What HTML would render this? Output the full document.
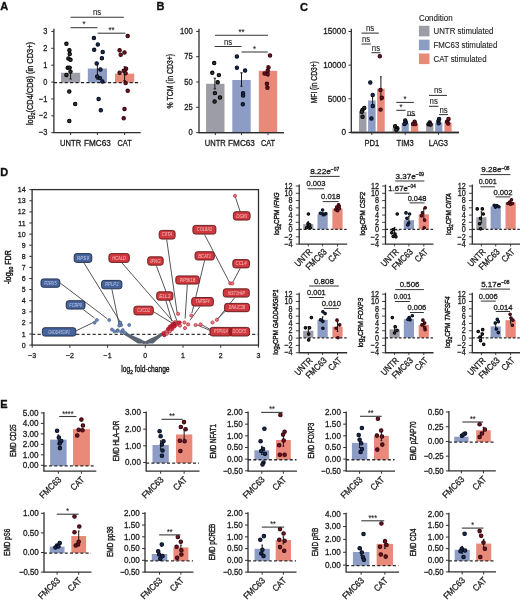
<!DOCTYPE html>
<html><head><meta charset="utf-8"><style>
html,body{margin:0;padding:0;background:#fff;}
svg{display:block;will-change:transform;}
text{font-family:"Liberation Sans", sans-serif;}
</style></head><body>
<svg width="520" height="602" viewBox="0 0 520 602">
<rect width="520" height="602" fill="#fff"/>
<text x="0.20" y="10.00" font-size="11.0" text-anchor="start" fill="#111" stroke="#111" stroke-width="0.35" font-weight="bold">A</text>
<text x="156.40" y="10.00" font-size="11.0" text-anchor="start" fill="#111" stroke="#111" stroke-width="0.35" font-weight="bold">B</text>
<text x="300.00" y="10.50" font-size="11.0" text-anchor="start" fill="#111" stroke="#111" stroke-width="0.35" font-weight="bold">C</text>
<text x="0.30" y="175.80" font-size="11.0" text-anchor="start" fill="#111" stroke="#111" stroke-width="0.35" font-weight="bold">D</text>
<text x="0.30" y="407.90" font-size="11.0" text-anchor="start" fill="#111" stroke="#111" stroke-width="0.35" font-weight="bold">E</text>
<line x1="53.90" y1="28.70" x2="53.90" y2="132.70" stroke="#2e2e2e" stroke-width="1.3"/>
<line x1="53.40" y1="132.70" x2="140.70" y2="132.70" stroke="#2e2e2e" stroke-width="1.3"/>
<line x1="51.30" y1="31.41" x2="53.90" y2="31.41" stroke="#2e2e2e" stroke-width="1.0"/>
<text x="47.40" y="34.01" font-size="8.51" text-anchor="end" fill="#1c1c1c" stroke="#1c1c1c" stroke-width="0.3" textLength="4.12" lengthAdjust="spacingAndGlyphs">3</text>
<line x1="51.30" y1="48.29" x2="53.90" y2="48.29" stroke="#2e2e2e" stroke-width="1.0"/>
<text x="47.40" y="50.89" font-size="8.51" text-anchor="end" fill="#1c1c1c" stroke="#1c1c1c" stroke-width="0.3" textLength="4.12" lengthAdjust="spacingAndGlyphs">2</text>
<line x1="51.30" y1="65.17" x2="53.90" y2="65.17" stroke="#2e2e2e" stroke-width="1.0"/>
<text x="47.40" y="67.77" font-size="8.51" text-anchor="end" fill="#1c1c1c" stroke="#1c1c1c" stroke-width="0.3" textLength="4.12" lengthAdjust="spacingAndGlyphs">1</text>
<line x1="51.30" y1="82.05" x2="53.90" y2="82.05" stroke="#2e2e2e" stroke-width="1.0"/>
<text x="47.40" y="84.65" font-size="8.51" text-anchor="end" fill="#1c1c1c" stroke="#1c1c1c" stroke-width="0.3" textLength="4.12" lengthAdjust="spacingAndGlyphs">0</text>
<line x1="51.30" y1="98.93" x2="53.90" y2="98.93" stroke="#2e2e2e" stroke-width="1.0"/>
<text x="47.40" y="101.53" font-size="8.51" text-anchor="end" fill="#1c1c1c" stroke="#1c1c1c" stroke-width="0.3" textLength="8.44" lengthAdjust="spacingAndGlyphs">−1</text>
<line x1="51.30" y1="115.81" x2="53.90" y2="115.81" stroke="#2e2e2e" stroke-width="1.0"/>
<text x="47.40" y="118.41" font-size="8.51" text-anchor="end" fill="#1c1c1c" stroke="#1c1c1c" stroke-width="0.3" textLength="8.44" lengthAdjust="spacingAndGlyphs">−2</text>
<line x1="51.30" y1="132.69" x2="53.90" y2="132.69" stroke="#2e2e2e" stroke-width="1.0"/>
<text x="47.40" y="135.29" font-size="8.51" text-anchor="end" fill="#1c1c1c" stroke="#1c1c1c" stroke-width="0.3" textLength="8.44" lengthAdjust="spacingAndGlyphs">−3</text>
<line x1="70.60" y1="132.60" x2="70.60" y2="135.00" stroke="#2e2e2e" stroke-width="1.0"/>
<line x1="97.40" y1="132.60" x2="97.40" y2="135.00" stroke="#2e2e2e" stroke-width="1.0"/>
<line x1="124.60" y1="132.60" x2="124.60" y2="135.00" stroke="#2e2e2e" stroke-width="1.0"/>
<text x="70.60" y="146.00" font-size="8.74" text-anchor="middle" fill="#1c1c1c" stroke="#1c1c1c" stroke-width="0.3" textLength="21.0" lengthAdjust="spacingAndGlyphs">UNTR</text>
<text x="97.40" y="146.00" font-size="8.74" text-anchor="middle" fill="#1c1c1c" stroke="#1c1c1c" stroke-width="0.3" textLength="26.8" lengthAdjust="spacingAndGlyphs">FMC63</text>
<text x="124.60" y="146.00" font-size="8.74" text-anchor="middle" fill="#1c1c1c" stroke="#1c1c1c" stroke-width="0.3" textLength="14.2" lengthAdjust="spacingAndGlyphs">CAT</text>
<rect x="61.00" y="72.77" width="19.20" height="9.78" fill="#9d9da7"/>
<rect x="87.80" y="68.55" width="19.20" height="14.00" fill="#8d9cc5"/>
<rect x="115.00" y="73.61" width="19.20" height="8.94" fill="#e8897a"/>
<line x1="53.90" y1="82.55" x2="140.50" y2="82.55" stroke="#222" stroke-width="1.3" stroke-dasharray="3.2,2.2"/>
<line x1="70.60" y1="67.50" x2="70.60" y2="79.00" stroke="#1a1a1a" stroke-width="1.0"/>
<line x1="69.40" y1="67.50" x2="71.80" y2="67.50" stroke="#1a1a1a" stroke-width="1.0"/>
<line x1="69.40" y1="79.00" x2="71.80" y2="79.00" stroke="#1a1a1a" stroke-width="1.0"/>
<line x1="97.40" y1="63.60" x2="97.40" y2="79.20" stroke="#1a1a1a" stroke-width="1.0"/>
<line x1="96.20" y1="63.60" x2="98.60" y2="63.60" stroke="#1a1a1a" stroke-width="1.0"/>
<line x1="96.20" y1="79.20" x2="98.60" y2="79.20" stroke="#1a1a1a" stroke-width="1.0"/>
<line x1="124.60" y1="66.80" x2="124.60" y2="80.60" stroke="#1a1a1a" stroke-width="1.0"/>
<line x1="123.40" y1="66.80" x2="125.80" y2="66.80" stroke="#1a1a1a" stroke-width="1.0"/>
<line x1="123.40" y1="80.60" x2="125.80" y2="80.60" stroke="#1a1a1a" stroke-width="1.0"/>
<circle cx="66.40" cy="43.80" r="1.7" fill="#343437" stroke="#000000" stroke-width="1.05"/>
<circle cx="69.40" cy="50.30" r="1.7" fill="#343437" stroke="#000000" stroke-width="1.05"/>
<circle cx="69.70" cy="54.10" r="1.7" fill="#343437" stroke="#000000" stroke-width="1.05"/>
<circle cx="68.40" cy="58.50" r="1.7" fill="#343437" stroke="#000000" stroke-width="1.05"/>
<circle cx="70.50" cy="59.80" r="1.7" fill="#343437" stroke="#000000" stroke-width="1.05"/>
<circle cx="67.70" cy="67.80" r="1.7" fill="#343437" stroke="#000000" stroke-width="1.05"/>
<circle cx="69.60" cy="67.60" r="1.7" fill="#343437" stroke="#000000" stroke-width="1.05"/>
<circle cx="70.50" cy="71.60" r="1.7" fill="#343437" stroke="#000000" stroke-width="1.05"/>
<circle cx="66.40" cy="74.90" r="1.7" fill="#343437" stroke="#000000" stroke-width="1.05"/>
<circle cx="69.30" cy="91.40" r="1.7" fill="#343437" stroke="#000000" stroke-width="1.05"/>
<circle cx="75.20" cy="104.00" r="1.7" fill="#343437" stroke="#000000" stroke-width="1.05"/>
<circle cx="69.30" cy="121.00" r="1.7" fill="#343437" stroke="#000000" stroke-width="1.05"/>
<circle cx="93.90" cy="38.10" r="1.7" fill="#1a2b50" stroke="#050c1c" stroke-width="1.05"/>
<circle cx="97.80" cy="44.60" r="1.7" fill="#1a2b50" stroke="#050c1c" stroke-width="1.05"/>
<circle cx="94.20" cy="49.80" r="1.7" fill="#1a2b50" stroke="#050c1c" stroke-width="1.05"/>
<circle cx="102.70" cy="52.00" r="1.7" fill="#1a2b50" stroke="#050c1c" stroke-width="1.05"/>
<circle cx="101.90" cy="58.20" r="1.7" fill="#1a2b50" stroke="#050c1c" stroke-width="1.05"/>
<circle cx="96.70" cy="63.40" r="1.7" fill="#1a2b50" stroke="#050c1c" stroke-width="1.05"/>
<circle cx="100.40" cy="69.50" r="1.7" fill="#1a2b50" stroke="#050c1c" stroke-width="1.05"/>
<circle cx="97.20" cy="76.50" r="1.7" fill="#1a2b50" stroke="#050c1c" stroke-width="1.05"/>
<circle cx="100.00" cy="78.10" r="1.7" fill="#1a2b50" stroke="#050c1c" stroke-width="1.05"/>
<circle cx="102.40" cy="81.40" r="1.7" fill="#1a2b50" stroke="#050c1c" stroke-width="1.05"/>
<circle cx="98.60" cy="98.90" r="1.7" fill="#1a2b50" stroke="#050c1c" stroke-width="1.05"/>
<circle cx="100.80" cy="110.20" r="1.7" fill="#1a2b50" stroke="#050c1c" stroke-width="1.05"/>
<circle cx="127.70" cy="36.10" r="1.7" fill="#6e1424" stroke="#33060c" stroke-width="1.05"/>
<circle cx="119.60" cy="50.30" r="1.7" fill="#6e1424" stroke="#33060c" stroke-width="1.05"/>
<circle cx="124.50" cy="52.50" r="1.7" fill="#6e1424" stroke="#33060c" stroke-width="1.05"/>
<circle cx="120.70" cy="54.70" r="1.7" fill="#6e1424" stroke="#33060c" stroke-width="1.05"/>
<circle cx="126.10" cy="68.80" r="1.7" fill="#6e1424" stroke="#33060c" stroke-width="1.05"/>
<circle cx="123.70" cy="70.80" r="1.7" fill="#6e1424" stroke="#33060c" stroke-width="1.05"/>
<circle cx="119.60" cy="72.70" r="1.7" fill="#6e1424" stroke="#33060c" stroke-width="1.05"/>
<circle cx="125.60" cy="73.20" r="1.7" fill="#6e1424" stroke="#33060c" stroke-width="1.05"/>
<circle cx="125.60" cy="83.00" r="1.7" fill="#6e1424" stroke="#33060c" stroke-width="1.05"/>
<circle cx="127.70" cy="90.80" r="1.7" fill="#6e1424" stroke="#33060c" stroke-width="1.05"/>
<circle cx="124.50" cy="108.90" r="1.7" fill="#6e1424" stroke="#33060c" stroke-width="1.05"/>
<circle cx="123.70" cy="118.30" r="1.7" fill="#6e1424" stroke="#33060c" stroke-width="1.05"/>
<line x1="70.50" y1="17.30" x2="123.80" y2="17.30" stroke="#363636" stroke-width="1.05"/>
<text x="97.15" y="15.30" font-size="8.97" text-anchor="middle" fill="#1c1c1c" stroke="#1c1c1c" stroke-width="0.1" textLength="8.24" lengthAdjust="spacingAndGlyphs">ns</text>
<line x1="70.50" y1="27.70" x2="97.40" y2="27.70" stroke="#363636" stroke-width="1.05"/>
<text x="83.95" y="27.00" font-size="8.97" text-anchor="middle" fill="#1c1c1c" stroke="#1c1c1c" stroke-width="0.1" textLength="3.04" lengthAdjust="spacingAndGlyphs">*</text>
<line x1="97.70" y1="33.20" x2="125.40" y2="33.20" stroke="#363636" stroke-width="1.05"/>
<text x="111.55" y="33.00" font-size="8.97" text-anchor="middle" fill="#1c1c1c" stroke="#1c1c1c" stroke-width="0.1" textLength="6.07" lengthAdjust="spacingAndGlyphs">**</text>
<text x="33.30" y="83.60" font-size="8.74" text-anchor="middle" fill="#1c1c1c" stroke="#1c1c1c" stroke-width="0.35" textLength="83" lengthAdjust="spacingAndGlyphs" transform="rotate(-90 33.30 83.60)">log<tspan font-size="6.0" dy="1.9">2</tspan><tspan dy="-1.9">(CD4/CD8) (in CD3+)</tspan></text>
<line x1="199.00" y1="28.70" x2="199.00" y2="132.70" stroke="#2e2e2e" stroke-width="1.3"/>
<line x1="198.50" y1="132.70" x2="283.80" y2="132.70" stroke="#2e2e2e" stroke-width="1.3"/>
<line x1="196.20" y1="132.60" x2="199.00" y2="132.60" stroke="#2e2e2e" stroke-width="1.0"/>
<text x="192.80" y="135.20" font-size="8.74" text-anchor="end" fill="#1c1c1c" stroke="#1c1c1c" stroke-width="0.3" textLength="4.23" lengthAdjust="spacingAndGlyphs">0</text>
<line x1="196.20" y1="107.30" x2="199.00" y2="107.30" stroke="#2e2e2e" stroke-width="1.0"/>
<text x="192.80" y="109.90" font-size="8.74" text-anchor="end" fill="#1c1c1c" stroke="#1c1c1c" stroke-width="0.3" textLength="8.45" lengthAdjust="spacingAndGlyphs">25</text>
<line x1="196.20" y1="82.00" x2="199.00" y2="82.00" stroke="#2e2e2e" stroke-width="1.0"/>
<text x="192.80" y="84.60" font-size="8.74" text-anchor="end" fill="#1c1c1c" stroke="#1c1c1c" stroke-width="0.3" textLength="8.45" lengthAdjust="spacingAndGlyphs">50</text>
<line x1="196.20" y1="56.70" x2="199.00" y2="56.70" stroke="#2e2e2e" stroke-width="1.0"/>
<text x="192.80" y="59.30" font-size="8.74" text-anchor="end" fill="#1c1c1c" stroke="#1c1c1c" stroke-width="0.3" textLength="8.45" lengthAdjust="spacingAndGlyphs">75</text>
<line x1="196.20" y1="31.40" x2="199.00" y2="31.40" stroke="#2e2e2e" stroke-width="1.0"/>
<text x="192.80" y="34.00" font-size="8.74" text-anchor="end" fill="#1c1c1c" stroke="#1c1c1c" stroke-width="0.3" textLength="12.68" lengthAdjust="spacingAndGlyphs">100</text>
<line x1="215.30" y1="132.70" x2="215.30" y2="135.10" stroke="#2e2e2e" stroke-width="1.0"/>
<line x1="241.50" y1="132.70" x2="241.50" y2="135.10" stroke="#2e2e2e" stroke-width="1.0"/>
<line x1="268.00" y1="132.70" x2="268.00" y2="135.10" stroke="#2e2e2e" stroke-width="1.0"/>
<text x="215.30" y="146.00" font-size="8.74" text-anchor="middle" fill="#1c1c1c" stroke="#1c1c1c" stroke-width="0.3" textLength="21.0" lengthAdjust="spacingAndGlyphs">UNTR</text>
<text x="241.50" y="146.00" font-size="8.74" text-anchor="middle" fill="#1c1c1c" stroke="#1c1c1c" stroke-width="0.3" textLength="26.8" lengthAdjust="spacingAndGlyphs">FMC63</text>
<text x="268.00" y="146.00" font-size="8.74" text-anchor="middle" fill="#1c1c1c" stroke="#1c1c1c" stroke-width="0.3" textLength="14.2" lengthAdjust="spacingAndGlyphs">CAT</text>
<rect x="206.10" y="83.80" width="18.40" height="48.90" fill="#9d9da7"/>
<rect x="232.30" y="80.00" width="18.40" height="52.70" fill="#8d9cc5"/>
<rect x="258.80" y="70.80" width="18.40" height="61.90" fill="#e8897a"/>
<line x1="198.50" y1="132.70" x2="283.80" y2="132.70" stroke="#2e2e2e" stroke-width="1.3"/>
<line x1="214.90" y1="78.20" x2="214.90" y2="88.90" stroke="#1a1a1a" stroke-width="1.0"/>
<line x1="213.70" y1="78.20" x2="216.10" y2="78.20" stroke="#1a1a1a" stroke-width="1.0"/>
<line x1="213.70" y1="88.90" x2="216.10" y2="88.90" stroke="#1a1a1a" stroke-width="1.0"/>
<line x1="241.50" y1="72.80" x2="241.50" y2="86.20" stroke="#1a1a1a" stroke-width="1.0"/>
<line x1="240.30" y1="72.80" x2="242.70" y2="72.80" stroke="#1a1a1a" stroke-width="1.0"/>
<line x1="240.30" y1="86.20" x2="242.70" y2="86.20" stroke="#1a1a1a" stroke-width="1.0"/>
<line x1="268.00" y1="66.00" x2="268.00" y2="76.00" stroke="#1a1a1a" stroke-width="1.0"/>
<line x1="266.80" y1="66.00" x2="269.20" y2="66.00" stroke="#1a1a1a" stroke-width="1.0"/>
<line x1="266.80" y1="76.00" x2="269.20" y2="76.00" stroke="#1a1a1a" stroke-width="1.0"/>
<circle cx="214.20" cy="63.10" r="1.7" fill="#343437" stroke="#000000" stroke-width="1.05"/>
<circle cx="212.30" cy="72.80" r="1.7" fill="#343437" stroke="#000000" stroke-width="1.05"/>
<circle cx="218.90" cy="75.10" r="1.7" fill="#343437" stroke="#000000" stroke-width="1.05"/>
<circle cx="217.70" cy="82.30" r="1.7" fill="#343437" stroke="#000000" stroke-width="1.05"/>
<circle cx="214.90" cy="93.10" r="1.7" fill="#343437" stroke="#000000" stroke-width="1.05"/>
<circle cx="220.00" cy="97.40" r="1.7" fill="#343437" stroke="#000000" stroke-width="1.05"/>
<circle cx="214.60" cy="101.50" r="1.7" fill="#343437" stroke="#000000" stroke-width="1.05"/>
<circle cx="236.90" cy="56.60" r="1.7" fill="#1a2b50" stroke="#050c1c" stroke-width="1.05"/>
<circle cx="236.90" cy="67.70" r="1.7" fill="#1a2b50" stroke="#050c1c" stroke-width="1.05"/>
<circle cx="245.10" cy="70.50" r="1.7" fill="#1a2b50" stroke="#050c1c" stroke-width="1.05"/>
<circle cx="243.10" cy="93.10" r="1.7" fill="#1a2b50" stroke="#050c1c" stroke-width="1.05"/>
<circle cx="243.10" cy="95.60" r="1.7" fill="#1a2b50" stroke="#050c1c" stroke-width="1.05"/>
<circle cx="242.80" cy="104.30" r="1.7" fill="#1a2b50" stroke="#050c1c" stroke-width="1.05"/>
<circle cx="270.00" cy="55.40" r="1.7" fill="#6e1424" stroke="#33060c" stroke-width="1.05"/>
<circle cx="268.50" cy="67.40" r="1.7" fill="#6e1424" stroke="#33060c" stroke-width="1.05"/>
<circle cx="267.70" cy="70.80" r="1.7" fill="#6e1424" stroke="#33060c" stroke-width="1.05"/>
<circle cx="264.60" cy="73.50" r="1.7" fill="#6e1424" stroke="#33060c" stroke-width="1.05"/>
<circle cx="267.60" cy="74.00" r="1.7" fill="#6e1424" stroke="#33060c" stroke-width="1.05"/>
<circle cx="266.90" cy="83.80" r="1.7" fill="#6e1424" stroke="#33060c" stroke-width="1.05"/>
<circle cx="267.40" cy="87.80" r="1.7" fill="#6e1424" stroke="#33060c" stroke-width="1.05"/>
<line x1="215.00" y1="35.20" x2="268.00" y2="35.20" stroke="#363636" stroke-width="1.05"/>
<text x="241.50" y="35.40" font-size="8.97" text-anchor="middle" fill="#1c1c1c" stroke="#1c1c1c" stroke-width="0.1" textLength="6.07" lengthAdjust="spacingAndGlyphs">**</text>
<line x1="214.60" y1="46.50" x2="241.50" y2="46.50" stroke="#363636" stroke-width="1.05"/>
<text x="228.05" y="44.70" font-size="8.97" text-anchor="middle" fill="#1c1c1c" stroke="#1c1c1c" stroke-width="0.1" textLength="8.24" lengthAdjust="spacingAndGlyphs">ns</text>
<line x1="241.50" y1="52.00" x2="267.70" y2="52.00" stroke="#363636" stroke-width="1.05"/>
<text x="254.60" y="51.60" font-size="8.97" text-anchor="middle" fill="#1c1c1c" stroke="#1c1c1c" stroke-width="0.1" textLength="3.04" lengthAdjust="spacingAndGlyphs">*</text>
<text x="173.30" y="81.20" font-size="8.74" text-anchor="middle" fill="#1c1c1c" stroke="#1c1c1c" stroke-width="0.35" textLength="54.5" lengthAdjust="spacingAndGlyphs" transform="rotate(-90 173.30 81.20)">% TCM (in CD3+)</text>
<line x1="351.30" y1="28.70" x2="351.30" y2="132.50" stroke="#2e2e2e" stroke-width="1.3"/>
<line x1="350.80" y1="132.50" x2="459.00" y2="132.50" stroke="#2e2e2e" stroke-width="1.3"/>
<line x1="348.50" y1="132.50" x2="351.30" y2="132.50" stroke="#2e2e2e" stroke-width="1.0"/>
<text x="346.00" y="135.40" font-size="9.43" text-anchor="end" fill="#1c1c1c" stroke="#1c1c1c" stroke-width="0.3" textLength="4.56" lengthAdjust="spacingAndGlyphs">0</text>
<line x1="348.50" y1="98.83" x2="351.30" y2="98.83" stroke="#2e2e2e" stroke-width="1.0"/>
<text x="346.00" y="101.73" font-size="9.43" text-anchor="end" fill="#1c1c1c" stroke="#1c1c1c" stroke-width="0.3" textLength="18.24" lengthAdjust="spacingAndGlyphs">5000</text>
<line x1="348.50" y1="65.17" x2="351.30" y2="65.17" stroke="#2e2e2e" stroke-width="1.0"/>
<text x="346.00" y="68.07" font-size="9.43" text-anchor="end" fill="#1c1c1c" stroke="#1c1c1c" stroke-width="0.3" textLength="22.8" lengthAdjust="spacingAndGlyphs">10000</text>
<line x1="348.50" y1="31.50" x2="351.30" y2="31.50" stroke="#2e2e2e" stroke-width="1.0"/>
<text x="346.00" y="34.40" font-size="9.43" text-anchor="end" fill="#1c1c1c" stroke="#1c1c1c" stroke-width="0.3" textLength="22.8" lengthAdjust="spacingAndGlyphs">15000</text>
<line x1="371.80" y1="132.50" x2="371.80" y2="134.90" stroke="#2e2e2e" stroke-width="1.0"/>
<line x1="405.20" y1="132.50" x2="405.20" y2="134.90" stroke="#2e2e2e" stroke-width="1.0"/>
<line x1="438.40" y1="132.50" x2="438.40" y2="134.90" stroke="#2e2e2e" stroke-width="1.0"/>
<text x="371.80" y="146.00" font-size="8.74" text-anchor="middle" fill="#1c1c1c" stroke="#1c1c1c" stroke-width="0.3" textLength="14.78" lengthAdjust="spacingAndGlyphs">PD1</text>
<text x="405.20" y="146.00" font-size="8.74" text-anchor="middle" fill="#1c1c1c" stroke="#1c1c1c" stroke-width="0.3" textLength="17.31" lengthAdjust="spacingAndGlyphs">TIM3</text>
<text x="438.40" y="146.00" font-size="8.74" text-anchor="middle" fill="#1c1c1c" stroke="#1c1c1c" stroke-width="0.3" textLength="19.43" lengthAdjust="spacingAndGlyphs">LAG3</text>
<rect x="359.00" y="111.70" width="7.50" height="20.80" fill="#9d9da7"/>
<rect x="368.10" y="100.50" width="7.50" height="32.00" fill="#8d9cc5"/>
<rect x="377.20" y="88.70" width="7.50" height="43.80" fill="#e8897a"/>
<rect x="392.50" y="127.60" width="7.10" height="4.90" fill="#9d9da7"/>
<rect x="401.60" y="123.30" width="7.20" height="9.20" fill="#8d9cc5"/>
<rect x="411.00" y="124.00" width="7.20" height="8.50" fill="#e8897a"/>
<rect x="426.10" y="123.30" width="7.30" height="9.20" fill="#9d9da7"/>
<rect x="435.20" y="122.50" width="7.20" height="10.00" fill="#8d9cc5"/>
<rect x="444.40" y="122.50" width="7.20" height="10.00" fill="#e8897a"/>
<line x1="350.80" y1="132.50" x2="459.00" y2="132.50" stroke="#2e2e2e" stroke-width="1.3"/>
<line x1="372.60" y1="94.30" x2="372.60" y2="106.00" stroke="#1a1a1a" stroke-width="1.0"/>
<line x1="371.70" y1="94.30" x2="373.50" y2="94.30" stroke="#1a1a1a" stroke-width="1.0"/>
<line x1="371.70" y1="106.00" x2="373.50" y2="106.00" stroke="#1a1a1a" stroke-width="1.0"/>
<line x1="380.90" y1="76.80" x2="380.90" y2="100.00" stroke="#1a1a1a" stroke-width="1.0"/>
<line x1="380.00" y1="76.80" x2="381.80" y2="76.80" stroke="#1a1a1a" stroke-width="1.0"/>
<line x1="380.00" y1="100.00" x2="381.80" y2="100.00" stroke="#1a1a1a" stroke-width="1.0"/>
<circle cx="364.30" cy="108.00" r="1.7" fill="#343437" stroke="#000000" stroke-width="1.05"/>
<circle cx="362.50" cy="109.90" r="1.7" fill="#343437" stroke="#000000" stroke-width="1.05"/>
<circle cx="361.80" cy="111.70" r="1.7" fill="#343437" stroke="#000000" stroke-width="1.05"/>
<circle cx="362.50" cy="116.70" r="1.7" fill="#343437" stroke="#000000" stroke-width="1.05"/>
<circle cx="395.10" cy="126.20" r="1.7" fill="#343437" stroke="#000000" stroke-width="1.05"/>
<circle cx="397.30" cy="128.30" r="1.7" fill="#343437" stroke="#000000" stroke-width="1.05"/>
<circle cx="396.30" cy="129.80" r="1.7" fill="#343437" stroke="#000000" stroke-width="1.05"/>
<circle cx="429.70" cy="122.50" r="1.7" fill="#343437" stroke="#000000" stroke-width="1.05"/>
<circle cx="428.60" cy="124.20" r="1.7" fill="#343437" stroke="#000000" stroke-width="1.05"/>
<circle cx="430.60" cy="124.50" r="1.7" fill="#343437" stroke="#000000" stroke-width="1.05"/>
<circle cx="370.30" cy="82.40" r="1.7" fill="#1a2b50" stroke="#050c1c" stroke-width="1.05"/>
<circle cx="372.70" cy="94.90" r="1.7" fill="#1a2b50" stroke="#050c1c" stroke-width="1.05"/>
<circle cx="372.80" cy="105.90" r="1.7" fill="#1a2b50" stroke="#050c1c" stroke-width="1.05"/>
<circle cx="371.40" cy="118.40" r="1.7" fill="#1a2b50" stroke="#050c1c" stroke-width="1.05"/>
<circle cx="405.20" cy="120.40" r="1.7" fill="#1a2b50" stroke="#050c1c" stroke-width="1.05"/>
<circle cx="405.90" cy="122.50" r="1.7" fill="#1a2b50" stroke="#050c1c" stroke-width="1.05"/>
<circle cx="404.50" cy="124.00" r="1.7" fill="#1a2b50" stroke="#050c1c" stroke-width="1.05"/>
<circle cx="439.10" cy="119.00" r="1.7" fill="#1a2b50" stroke="#050c1c" stroke-width="1.05"/>
<circle cx="438.40" cy="121.10" r="1.7" fill="#1a2b50" stroke="#050c1c" stroke-width="1.05"/>
<circle cx="438.70" cy="123.30" r="1.7" fill="#1a2b50" stroke="#050c1c" stroke-width="1.05"/>
<circle cx="379.80" cy="56.20" r="1.7" fill="#6e1424" stroke="#33060c" stroke-width="1.05"/>
<circle cx="380.50" cy="89.90" r="1.7" fill="#6e1424" stroke="#33060c" stroke-width="1.05"/>
<circle cx="381.80" cy="97.80" r="1.7" fill="#6e1424" stroke="#33060c" stroke-width="1.05"/>
<circle cx="380.50" cy="109.60" r="1.7" fill="#6e1424" stroke="#33060c" stroke-width="1.05"/>
<circle cx="414.60" cy="121.80" r="1.7" fill="#6e1424" stroke="#33060c" stroke-width="1.05"/>
<circle cx="413.10" cy="124.00" r="1.7" fill="#6e1424" stroke="#33060c" stroke-width="1.05"/>
<circle cx="415.30" cy="124.00" r="1.7" fill="#6e1424" stroke="#33060c" stroke-width="1.05"/>
<circle cx="448.50" cy="119.00" r="1.7" fill="#6e1424" stroke="#33060c" stroke-width="1.05"/>
<circle cx="447.00" cy="121.80" r="1.7" fill="#6e1424" stroke="#33060c" stroke-width="1.05"/>
<circle cx="448.20" cy="123.50" r="1.7" fill="#6e1424" stroke="#33060c" stroke-width="1.05"/>
<line x1="361.50" y1="33.10" x2="378.80" y2="33.10" stroke="#363636" stroke-width="1.05"/>
<text x="370.15" y="31.20" font-size="8.97" text-anchor="middle" fill="#1c1c1c" stroke="#1c1c1c" stroke-width="0.1" textLength="8.24" lengthAdjust="spacingAndGlyphs">ns</text>
<line x1="361.50" y1="44.00" x2="370.80" y2="44.00" stroke="#363636" stroke-width="1.05"/>
<text x="366.15" y="42.20" font-size="8.97" text-anchor="middle" fill="#1c1c1c" stroke="#1c1c1c" stroke-width="0.1" textLength="8.24" lengthAdjust="spacingAndGlyphs">ns</text>
<line x1="371.50" y1="52.70" x2="380.40" y2="52.70" stroke="#363636" stroke-width="1.05"/>
<text x="375.95" y="51.10" font-size="8.97" text-anchor="middle" fill="#1c1c1c" stroke="#1c1c1c" stroke-width="0.1" textLength="8.24" lengthAdjust="spacingAndGlyphs">ns</text>
<line x1="396.30" y1="102.40" x2="413.80" y2="102.40" stroke="#363636" stroke-width="1.05"/>
<text x="405.05" y="102.00" font-size="8.97" text-anchor="middle" fill="#1c1c1c" stroke="#1c1c1c" stroke-width="0.1" textLength="3.04" lengthAdjust="spacingAndGlyphs">*</text>
<line x1="396.30" y1="110.30" x2="405.50" y2="110.30" stroke="#363636" stroke-width="1.05"/>
<text x="400.90" y="110.00" font-size="8.97" text-anchor="middle" fill="#1c1c1c" stroke="#1c1c1c" stroke-width="0.1" textLength="3.04" lengthAdjust="spacingAndGlyphs">*</text>
<line x1="406.90" y1="115.30" x2="415.30" y2="115.30" stroke="#363636" stroke-width="1.05"/>
<text x="411.10" y="115.60" font-size="8.97" text-anchor="middle" fill="#1c1c1c" stroke="#1c1c1c" stroke-width="0.1" textLength="8.24" lengthAdjust="spacingAndGlyphs">ns</text>
<line x1="429.00" y1="95.40" x2="447.00" y2="95.40" stroke="#363636" stroke-width="1.05"/>
<text x="438.00" y="92.70" font-size="8.97" text-anchor="middle" fill="#1c1c1c" stroke="#1c1c1c" stroke-width="0.1" textLength="8.24" lengthAdjust="spacingAndGlyphs">ns</text>
<line x1="429.00" y1="106.30" x2="438.40" y2="106.30" stroke="#363636" stroke-width="1.05"/>
<text x="433.70" y="103.70" font-size="8.97" text-anchor="middle" fill="#1c1c1c" stroke="#1c1c1c" stroke-width="0.1" textLength="8.24" lengthAdjust="spacingAndGlyphs">ns</text>
<line x1="439.10" y1="114.60" x2="448.00" y2="114.60" stroke="#363636" stroke-width="1.05"/>
<text x="443.55" y="113.20" font-size="8.97" text-anchor="middle" fill="#1c1c1c" stroke="#1c1c1c" stroke-width="0.1" textLength="8.24" lengthAdjust="spacingAndGlyphs">ns</text>
<text x="317.00" y="82.20" font-size="8.74" text-anchor="middle" fill="#1c1c1c" stroke="#1c1c1c" stroke-width="0.35" textLength="42" lengthAdjust="spacingAndGlyphs" transform="rotate(-90 317.00 82.20)">MFI (in CD3+)</text>
<text x="418.90" y="21.30" font-size="8.74" text-anchor="start" fill="#1c1c1c" stroke="#1c1c1c" stroke-width="0.12" textLength="33.71" lengthAdjust="spacingAndGlyphs">Condition</text>
<rect x="418.90" y="25.80" width="10.60" height="10.60" fill="#9d9da7"/>
<text x="433.50" y="33.80" font-size="8.74" text-anchor="start" fill="#1c1c1c" stroke="#1c1c1c" stroke-width="0.12" textLength="59.88" lengthAdjust="spacingAndGlyphs">UNTR stimulated</text>
<rect x="418.90" y="39.65" width="10.60" height="10.60" fill="#8d9cc5"/>
<text x="433.50" y="47.65" font-size="8.74" text-anchor="start" fill="#1c1c1c" stroke="#1c1c1c" stroke-width="0.12" textLength="63.82" lengthAdjust="spacingAndGlyphs">FMC63 stimulated</text>
<rect x="418.90" y="53.50" width="10.60" height="10.60" fill="#e8897a"/>
<text x="433.50" y="61.50" font-size="8.74" text-anchor="start" fill="#1c1c1c" stroke="#1c1c1c" stroke-width="0.12" textLength="53.04" lengthAdjust="spacingAndGlyphs">CAT stimulated</text>
<rect x="32.10" y="189.60" width="226.40" height="155.50" fill="none" stroke="#2e2e2e" stroke-width="1.3"/>
<line x1="29.30" y1="345.10" x2="32.10" y2="345.10" stroke="#2e2e2e" stroke-width="1.0"/>
<text x="25.60" y="347.60" font-size="8.05" text-anchor="end" fill="#1c1c1c" stroke="#1c1c1c" stroke-width="0.3" textLength="3.89" lengthAdjust="spacingAndGlyphs">0</text>
<line x1="29.30" y1="334.00" x2="32.10" y2="334.00" stroke="#2e2e2e" stroke-width="1.0"/>
<text x="25.60" y="336.50" font-size="8.05" text-anchor="end" fill="#1c1c1c" stroke="#1c1c1c" stroke-width="0.3" textLength="3.89" lengthAdjust="spacingAndGlyphs">1</text>
<line x1="29.30" y1="322.90" x2="32.10" y2="322.90" stroke="#2e2e2e" stroke-width="1.0"/>
<text x="25.60" y="325.40" font-size="8.05" text-anchor="end" fill="#1c1c1c" stroke="#1c1c1c" stroke-width="0.3" textLength="3.89" lengthAdjust="spacingAndGlyphs">2</text>
<line x1="29.30" y1="311.80" x2="32.10" y2="311.80" stroke="#2e2e2e" stroke-width="1.0"/>
<text x="25.60" y="314.30" font-size="8.05" text-anchor="end" fill="#1c1c1c" stroke="#1c1c1c" stroke-width="0.3" textLength="3.89" lengthAdjust="spacingAndGlyphs">3</text>
<line x1="29.30" y1="300.70" x2="32.10" y2="300.70" stroke="#2e2e2e" stroke-width="1.0"/>
<text x="25.60" y="303.20" font-size="8.05" text-anchor="end" fill="#1c1c1c" stroke="#1c1c1c" stroke-width="0.3" textLength="3.89" lengthAdjust="spacingAndGlyphs">4</text>
<line x1="29.30" y1="289.60" x2="32.10" y2="289.60" stroke="#2e2e2e" stroke-width="1.0"/>
<text x="25.60" y="292.10" font-size="8.05" text-anchor="end" fill="#1c1c1c" stroke="#1c1c1c" stroke-width="0.3" textLength="3.89" lengthAdjust="spacingAndGlyphs">5</text>
<line x1="29.30" y1="278.50" x2="32.10" y2="278.50" stroke="#2e2e2e" stroke-width="1.0"/>
<text x="25.60" y="281.00" font-size="8.05" text-anchor="end" fill="#1c1c1c" stroke="#1c1c1c" stroke-width="0.3" textLength="3.89" lengthAdjust="spacingAndGlyphs">6</text>
<line x1="29.30" y1="267.40" x2="32.10" y2="267.40" stroke="#2e2e2e" stroke-width="1.0"/>
<text x="25.60" y="269.90" font-size="8.05" text-anchor="end" fill="#1c1c1c" stroke="#1c1c1c" stroke-width="0.3" textLength="3.89" lengthAdjust="spacingAndGlyphs">7</text>
<line x1="29.30" y1="256.30" x2="32.10" y2="256.30" stroke="#2e2e2e" stroke-width="1.0"/>
<text x="25.60" y="258.80" font-size="8.05" text-anchor="end" fill="#1c1c1c" stroke="#1c1c1c" stroke-width="0.3" textLength="3.89" lengthAdjust="spacingAndGlyphs">8</text>
<line x1="29.30" y1="245.20" x2="32.10" y2="245.20" stroke="#2e2e2e" stroke-width="1.0"/>
<text x="25.60" y="247.70" font-size="8.05" text-anchor="end" fill="#1c1c1c" stroke="#1c1c1c" stroke-width="0.3" textLength="3.89" lengthAdjust="spacingAndGlyphs">9</text>
<line x1="29.30" y1="234.10" x2="32.10" y2="234.10" stroke="#2e2e2e" stroke-width="1.0"/>
<text x="25.60" y="236.60" font-size="8.05" text-anchor="end" fill="#1c1c1c" stroke="#1c1c1c" stroke-width="0.3" textLength="7.79" lengthAdjust="spacingAndGlyphs">10</text>
<line x1="29.30" y1="223.00" x2="32.10" y2="223.00" stroke="#2e2e2e" stroke-width="1.0"/>
<text x="25.60" y="225.50" font-size="8.05" text-anchor="end" fill="#1c1c1c" stroke="#1c1c1c" stroke-width="0.3" textLength="7.27" lengthAdjust="spacingAndGlyphs">11</text>
<line x1="29.30" y1="211.90" x2="32.10" y2="211.90" stroke="#2e2e2e" stroke-width="1.0"/>
<text x="25.60" y="214.40" font-size="8.05" text-anchor="end" fill="#1c1c1c" stroke="#1c1c1c" stroke-width="0.3" textLength="7.79" lengthAdjust="spacingAndGlyphs">12</text>
<line x1="29.30" y1="200.80" x2="32.10" y2="200.80" stroke="#2e2e2e" stroke-width="1.0"/>
<text x="25.60" y="203.30" font-size="8.05" text-anchor="end" fill="#1c1c1c" stroke="#1c1c1c" stroke-width="0.3" textLength="7.79" lengthAdjust="spacingAndGlyphs">13</text>
<line x1="29.30" y1="189.70" x2="32.10" y2="189.70" stroke="#2e2e2e" stroke-width="1.0"/>
<text x="25.60" y="192.20" font-size="8.05" text-anchor="end" fill="#1c1c1c" stroke="#1c1c1c" stroke-width="0.3" textLength="7.79" lengthAdjust="spacingAndGlyphs">14</text>
<line x1="32.20" y1="345.10" x2="32.20" y2="347.70" stroke="#2e2e2e" stroke-width="1.0"/>
<text x="32.20" y="358.20" font-size="8.05" text-anchor="middle" fill="#1c1c1c" stroke="#1c1c1c" stroke-width="0.3" textLength="7.98" lengthAdjust="spacingAndGlyphs">−3</text>
<line x1="69.90" y1="345.10" x2="69.90" y2="347.70" stroke="#2e2e2e" stroke-width="1.0"/>
<text x="69.90" y="358.20" font-size="8.05" text-anchor="middle" fill="#1c1c1c" stroke="#1c1c1c" stroke-width="0.3" textLength="7.98" lengthAdjust="spacingAndGlyphs">−2</text>
<line x1="107.60" y1="345.10" x2="107.60" y2="347.70" stroke="#2e2e2e" stroke-width="1.0"/>
<text x="107.60" y="358.20" font-size="8.05" text-anchor="middle" fill="#1c1c1c" stroke="#1c1c1c" stroke-width="0.3" textLength="7.98" lengthAdjust="spacingAndGlyphs">−1</text>
<line x1="145.30" y1="345.10" x2="145.30" y2="347.70" stroke="#2e2e2e" stroke-width="1.0"/>
<text x="145.30" y="358.20" font-size="8.05" text-anchor="middle" fill="#1c1c1c" stroke="#1c1c1c" stroke-width="0.3" textLength="3.89" lengthAdjust="spacingAndGlyphs">0</text>
<line x1="183.00" y1="345.10" x2="183.00" y2="347.70" stroke="#2e2e2e" stroke-width="1.0"/>
<text x="183.00" y="358.20" font-size="8.05" text-anchor="middle" fill="#1c1c1c" stroke="#1c1c1c" stroke-width="0.3" textLength="3.89" lengthAdjust="spacingAndGlyphs">1</text>
<line x1="220.70" y1="345.10" x2="220.70" y2="347.70" stroke="#2e2e2e" stroke-width="1.0"/>
<text x="220.70" y="358.20" font-size="8.05" text-anchor="middle" fill="#1c1c1c" stroke="#1c1c1c" stroke-width="0.3" textLength="3.89" lengthAdjust="spacingAndGlyphs">2</text>
<line x1="258.40" y1="345.10" x2="258.40" y2="347.70" stroke="#2e2e2e" stroke-width="1.0"/>
<text x="258.40" y="358.20" font-size="8.05" text-anchor="middle" fill="#1c1c1c" stroke="#1c1c1c" stroke-width="0.3" textLength="3.89" lengthAdjust="spacingAndGlyphs">3</text>
<text x="145.40" y="371.60" font-size="8.74" text-anchor="middle" fill="#1c1c1c" stroke="#1c1c1c" stroke-width="0.4" textLength="48.4" lengthAdjust="spacingAndGlyphs">log<tspan font-size="6.2" dy="2.0">2</tspan><tspan dy="-2.0"> fold-change</tspan></text>
<text x="11.00" y="267.20" font-size="8.3" text-anchor="middle" fill="#1c1c1c" stroke="#1c1c1c" stroke-width="0.45" textLength="34" lengthAdjust="spacingAndGlyphs" transform="rotate(-90 11.00 267.20)">-log<tspan font-size="6.0" dy="1.9">10</tspan><tspan dy="-1.9"> FDR</tspan></text>
<line x1="32.10" y1="334.40" x2="258.50" y2="334.40" stroke="#3a3a3a" stroke-width="1.1" stroke-dasharray="3.2,2.3"/>
<path d="M123.0,331.6 L126,332.6 L133,335.8 L140,338.8 L145,341.6 L150,338.8 L156,336.0 L161.6,333.0 L163.6,333.8 L162.2,335.8 L157.5,339.6 L153.2,343.6 L137.8,343.6 L131,338.9 L123.4,334.2 Z" fill="#5a6471"/>
<circle cx="126.50" cy="333.70" r="1.5" fill="#5a6471"/>
<circle cx="131.00" cy="336.00" r="1.5" fill="#5a6471"/>
<circle cx="136.00" cy="339.50" r="1.5" fill="#5a6471"/>
<circle cx="140.50" cy="341.80" r="1.5" fill="#5a6471"/>
<circle cx="149.50" cy="341.80" r="1.5" fill="#5a6471"/>
<circle cx="154.00" cy="339.50" r="1.5" fill="#5a6471"/>
<circle cx="158.50" cy="336.50" r="1.5" fill="#5a6471"/>
<circle cx="161.00" cy="334.50" r="1.5" fill="#5a6471"/>
<circle cx="144.00" cy="342.60" r="1.5" fill="#5a6471"/>
<circle cx="147.00" cy="342.60" r="1.5" fill="#5a6471"/>
<line x1="83.80" y1="262.70" x2="120.00" y2="321.50" stroke="#444444" stroke-width="0.9"/>
<line x1="111.90" y1="289.20" x2="118.90" y2="323.80" stroke="#444444" stroke-width="0.9"/>
<line x1="60.20" y1="283.00" x2="107.30" y2="318.80" stroke="#444444" stroke-width="0.9"/>
<line x1="83.10" y1="309.50" x2="94.60" y2="318.10" stroke="#444444" stroke-width="0.9"/>
<line x1="75.70" y1="331.00" x2="95.30" y2="321.50" stroke="#444444" stroke-width="0.9"/>
<line x1="121.70" y1="262.60" x2="172.80" y2="321.30" stroke="#444444" stroke-width="0.9"/>
<line x1="156.30" y1="265.60" x2="177.10" y2="321.30" stroke="#444444" stroke-width="0.9"/>
<line x1="166.70" y1="239.50" x2="177.10" y2="312.70" stroke="#444444" stroke-width="0.9"/>
<line x1="204.50" y1="234.50" x2="229.30" y2="282.00" stroke="#444444" stroke-width="0.9"/>
<line x1="235.00" y1="195.80" x2="240.00" y2="211.30" stroke="#444444" stroke-width="0.9"/>
<line x1="204.60" y1="260.40" x2="191.90" y2="313.00" stroke="#444444" stroke-width="0.9"/>
<line x1="240.20" y1="268.30" x2="232.90" y2="282.00" stroke="#444444" stroke-width="0.9"/>
<line x1="187.30" y1="284.50" x2="185.10" y2="318.50" stroke="#444444" stroke-width="0.9"/>
<line x1="234.80" y1="297.50" x2="217.40" y2="319.40" stroke="#444444" stroke-width="0.9"/>
<line x1="200.10" y1="306.30" x2="190.00" y2="320.30" stroke="#444444" stroke-width="0.9"/>
<line x1="226.00" y1="310.50" x2="216.50" y2="319.80" stroke="#444444" stroke-width="0.9"/>
<line x1="210.10" y1="329.40" x2="201.00" y2="324.30" stroke="#444444" stroke-width="0.9"/>
<line x1="210.10" y1="330.50" x2="196.40" y2="324.60" stroke="#444444" stroke-width="0.9"/>
<line x1="165.90" y1="300.60" x2="171.90" y2="321.30" stroke="#444444" stroke-width="0.9"/>
<line x1="153.70" y1="311.80" x2="171.90" y2="323.00" stroke="#444444" stroke-width="0.9"/>
<circle cx="96.90" cy="320.00" r="1.55" fill="#6f88b8" stroke="#3d557f" stroke-width="0.6"/>
<circle cx="94.60" cy="322.70" r="1.55" fill="#6f88b8" stroke="#3d557f" stroke-width="0.6"/>
<circle cx="109.20" cy="320.00" r="1.55" fill="#6f88b8" stroke="#3d557f" stroke-width="0.6"/>
<circle cx="120.00" cy="322.70" r="1.55" fill="#6f88b8" stroke="#3d557f" stroke-width="0.6"/>
<circle cx="121.20" cy="325.00" r="1.55" fill="#6f88b8" stroke="#3d557f" stroke-width="0.6"/>
<circle cx="129.20" cy="325.00" r="1.55" fill="#6f88b8" stroke="#3d557f" stroke-width="0.6"/>
<circle cx="112.00" cy="329.60" r="1.55" fill="#6f88b8" stroke="#3d557f" stroke-width="0.6"/>
<circle cx="117.70" cy="330.30" r="1.55" fill="#6f88b8" stroke="#3d557f" stroke-width="0.6"/>
<circle cx="121.20" cy="332.00" r="1.55" fill="#6f88b8" stroke="#3d557f" stroke-width="0.6"/>
<circle cx="119.20" cy="325.60" r="1.55" fill="#6f88b8" stroke="#3d557f" stroke-width="0.6"/>
<circle cx="120.20" cy="322.70" r="1.55" fill="#6f88b8" stroke="#3d557f" stroke-width="0.6"/>
<circle cx="125.00" cy="332.70" r="1.55" fill="#6f88b8" stroke="#3d557f" stroke-width="0.6"/>
<circle cx="117.30" cy="331.00" r="1.55" fill="#6f88b8" stroke="#3d557f" stroke-width="0.6"/>
<circle cx="122.80" cy="330.00" r="1.55" fill="#6f88b8" stroke="#3d557f" stroke-width="0.6"/>
<circle cx="114.50" cy="331.50" r="1.55" fill="#6f88b8" stroke="#3d557f" stroke-width="0.6"/>
<circle cx="165.23" cy="332.39" r="1.55" fill="#e07884" stroke="#c3283a" stroke-width="0.7"/>
<circle cx="171.57" cy="326.25" r="1.55" fill="#d42a3a" stroke="#a01828" stroke-width="0.5"/>
<circle cx="163.91" cy="333.99" r="1.55" fill="#d42a3a" stroke="#a01828" stroke-width="0.5"/>
<circle cx="166.98" cy="332.83" r="1.55" fill="#e07884" stroke="#c3283a" stroke-width="0.7"/>
<circle cx="175.49" cy="324.85" r="1.55" fill="#d42a3a" stroke="#a01828" stroke-width="0.5"/>
<circle cx="164.45" cy="335.32" r="1.55" fill="#d42a3a" stroke="#a01828" stroke-width="0.5"/>
<circle cx="170.57" cy="329.87" r="1.55" fill="#e07884" stroke="#c3283a" stroke-width="0.7"/>
<circle cx="164.00" cy="334.99" r="1.55" fill="#d42a3a" stroke="#a01828" stroke-width="0.5"/>
<circle cx="164.09" cy="333.62" r="1.55" fill="#d42a3a" stroke="#a01828" stroke-width="0.5"/>
<circle cx="169.61" cy="331.42" r="1.55" fill="#e07884" stroke="#c3283a" stroke-width="0.7"/>
<circle cx="174.84" cy="325.87" r="1.55" fill="#d42a3a" stroke="#a01828" stroke-width="0.5"/>
<circle cx="174.64" cy="326.63" r="1.55" fill="#d42a3a" stroke="#a01828" stroke-width="0.5"/>
<circle cx="174.84" cy="322.13" r="1.55" fill="#e07884" stroke="#c3283a" stroke-width="0.7"/>
<circle cx="166.63" cy="332.89" r="1.55" fill="#d42a3a" stroke="#a01828" stroke-width="0.5"/>
<circle cx="170.69" cy="327.68" r="1.55" fill="#d42a3a" stroke="#a01828" stroke-width="0.5"/>
<circle cx="166.69" cy="331.43" r="1.55" fill="#e07884" stroke="#c3283a" stroke-width="0.7"/>
<circle cx="172.32" cy="329.01" r="1.55" fill="#d42a3a" stroke="#a01828" stroke-width="0.5"/>
<circle cx="178.92" cy="324.70" r="1.55" fill="#d42a3a" stroke="#a01828" stroke-width="0.5"/>
<circle cx="170.98" cy="328.40" r="1.55" fill="#e07884" stroke="#c3283a" stroke-width="0.7"/>
<circle cx="179.86" cy="322.39" r="1.55" fill="#d42a3a" stroke="#a01828" stroke-width="0.5"/>
<circle cx="171.99" cy="327.62" r="1.55" fill="#d42a3a" stroke="#a01828" stroke-width="0.5"/>
<circle cx="169.65" cy="326.70" r="1.55" fill="#e07884" stroke="#c3283a" stroke-width="0.7"/>
<circle cx="177.90" cy="322.36" r="1.55" fill="#d42a3a" stroke="#a01828" stroke-width="0.5"/>
<circle cx="174.50" cy="323.49" r="1.55" fill="#d42a3a" stroke="#a01828" stroke-width="0.5"/>
<circle cx="166.93" cy="333.74" r="1.55" fill="#e07884" stroke="#c3283a" stroke-width="0.7"/>
<circle cx="163.24" cy="332.95" r="1.55" fill="#d42a3a" stroke="#a01828" stroke-width="0.5"/>
<circle cx="173.80" cy="323.80" r="1.7" fill="#c42030" stroke="#8a1020" stroke-width="0.5"/>
<circle cx="172.50" cy="324.40" r="1.7" fill="#c42030" stroke="#8a1020" stroke-width="0.5"/>
<circle cx="170.50" cy="326.50" r="1.7" fill="#c42030" stroke="#8a1020" stroke-width="0.5"/>
<circle cx="168.00" cy="329.00" r="1.7" fill="#c42030" stroke="#8a1020" stroke-width="0.5"/>
<circle cx="178.10" cy="313.80" r="1.6" fill="#e07884" stroke="#c3283a" stroke-width="0.7"/>
<circle cx="180.00" cy="325.60" r="1.6" fill="#e07884" stroke="#c3283a" stroke-width="0.7"/>
<circle cx="184.40" cy="322.50" r="1.6" fill="#e07884" stroke="#c3283a" stroke-width="0.7"/>
<circle cx="188.10" cy="324.40" r="1.6" fill="#e07884" stroke="#c3283a" stroke-width="0.7"/>
<circle cx="185.00" cy="328.10" r="1.6" fill="#e07884" stroke="#c3283a" stroke-width="0.7"/>
<circle cx="191.30" cy="315.60" r="1.6" fill="#e07884" stroke="#c3283a" stroke-width="0.7"/>
<circle cx="195.60" cy="325.00" r="1.6" fill="#e07884" stroke="#c3283a" stroke-width="0.7"/>
<circle cx="200.60" cy="324.40" r="1.6" fill="#e07884" stroke="#c3283a" stroke-width="0.7"/>
<circle cx="212.50" cy="322.50" r="1.6" fill="#e07884" stroke="#c3283a" stroke-width="0.7"/>
<circle cx="216.90" cy="319.80" r="1.6" fill="#e07884" stroke="#c3283a" stroke-width="0.7"/>
<circle cx="230.20" cy="283.30" r="1.6" fill="#e07884" stroke="#c3283a" stroke-width="0.7"/>
<circle cx="232.20" cy="283.50" r="1.6" fill="#e07884" stroke="#c3283a" stroke-width="0.7"/>
<circle cx="235.00" cy="195.80" r="1.6" fill="#e07884" stroke="#c3283a" stroke-width="0.7"/>
<rect x="74.20" y="253.60" width="17.60" height="8.80" fill="#46639c" stroke="#1a2744" stroke-width="0.9" rx="2.4"/>
<text x="83.00" y="259.70" font-size="5.29" text-anchor="middle" fill="#b4c2e2" stroke="#b4c2e2" stroke-width="0.05" font-style="italic" textLength="11.8" lengthAdjust="spacingAndGlyphs">RPS9</text>
<rect x="41.00" y="278.90" width="18.80" height="8.40" fill="#46639c" stroke="#1a2744" stroke-width="0.9" rx="2.4"/>
<text x="50.40" y="284.80" font-size="5.29" text-anchor="middle" fill="#b4c2e2" stroke="#b4c2e2" stroke-width="0.05" font-style="italic" textLength="12.5" lengthAdjust="spacingAndGlyphs">P2RX5</text>
<rect x="101.60" y="280.40" width="20.30" height="8.40" fill="#46639c" stroke="#1a2744" stroke-width="0.9" rx="2.4"/>
<text x="111.75" y="286.30" font-size="5.29" text-anchor="middle" fill="#b4c2e2" stroke="#b4c2e2" stroke-width="0.05" font-style="italic" textLength="13.5" lengthAdjust="spacingAndGlyphs">RPLP2</text>
<rect x="66.20" y="300.70" width="18.80" height="8.40" fill="#46639c" stroke="#1a2744" stroke-width="0.9" rx="2.4"/>
<text x="75.60" y="306.60" font-size="5.29" text-anchor="middle" fill="#b4c2e2" stroke="#b4c2e2" stroke-width="0.05" font-style="italic" textLength="12.5" lengthAdjust="spacingAndGlyphs">FCRP9</text>
<rect x="42.40" y="327.70" width="33.40" height="8.40" fill="#46639c" stroke="#1a2744" stroke-width="0.9" rx="2.4"/>
<text x="59.10" y="333.60" font-size="5.29" text-anchor="middle" fill="#b4c2e2" stroke="#b4c2e2" stroke-width="0.05" font-style="italic" textLength="21.9" lengthAdjust="spacingAndGlyphs">GADD45GIP1</text>
<rect x="108.90" y="253.60" width="20.40" height="8.80" fill="#d0383e" stroke="#5e1618" stroke-width="0.9" rx="2.4"/>
<text x="119.10" y="259.70" font-size="5.29" text-anchor="middle" fill="#f0baba" stroke="#f0baba" stroke-width="0.05" font-style="italic" textLength="13.6" lengthAdjust="spacingAndGlyphs">HCALD</text>
<rect x="147.70" y="256.80" width="15.50" height="8.40" fill="#d0383e" stroke="#5e1618" stroke-width="0.9" rx="2.4"/>
<text x="155.45" y="262.70" font-size="5.29" text-anchor="middle" fill="#f0baba" stroke="#f0baba" stroke-width="0.05" font-style="italic" textLength="10.4" lengthAdjust="spacingAndGlyphs">IFNG</text>
<rect x="159.20" y="230.40" width="15.90" height="8.70" fill="#d0383e" stroke="#5e1618" stroke-width="0.9" rx="2.4"/>
<text x="167.15" y="236.45" font-size="5.29" text-anchor="middle" fill="#f0baba" stroke="#f0baba" stroke-width="0.05" font-style="italic" textLength="10.7" lengthAdjust="spacingAndGlyphs">CIITA</text>
<rect x="192.90" y="225.40" width="23.00" height="8.70" fill="#d0383e" stroke="#5e1618" stroke-width="0.9" rx="2.4"/>
<text x="204.40" y="231.45" font-size="5.29" text-anchor="middle" fill="#f0baba" stroke="#f0baba" stroke-width="0.05" font-style="italic" textLength="15.2" lengthAdjust="spacingAndGlyphs">COL6A3</text>
<rect x="233.40" y="211.70" width="16.70" height="8.40" fill="#d0383e" stroke="#5e1618" stroke-width="0.9" rx="2.4"/>
<text x="241.75" y="217.60" font-size="5.29" text-anchor="middle" fill="#f0baba" stroke="#f0baba" stroke-width="0.05" font-style="italic" textLength="11.2" lengthAdjust="spacingAndGlyphs">DGKI</text>
<rect x="195.00" y="251.70" width="19.30" height="8.30" fill="#d0383e" stroke="#5e1618" stroke-width="0.9" rx="2.4"/>
<text x="204.65" y="257.55" font-size="5.29" text-anchor="middle" fill="#f0baba" stroke="#f0baba" stroke-width="0.05" font-style="italic" textLength="12.9" lengthAdjust="spacingAndGlyphs">BCAT1</text>
<rect x="232.80" y="259.60" width="16.70" height="8.30" fill="#d0383e" stroke="#5e1618" stroke-width="0.9" rx="2.4"/>
<text x="241.15" y="265.45" font-size="5.29" text-anchor="middle" fill="#f0baba" stroke="#f0baba" stroke-width="0.05" font-style="italic" textLength="11.2" lengthAdjust="spacingAndGlyphs">CCL4</text>
<rect x="175.80" y="275.90" width="23.40" height="8.20" fill="#d0383e" stroke="#5e1618" stroke-width="0.9" rx="2.4"/>
<text x="187.50" y="281.70" font-size="5.29" text-anchor="middle" fill="#f0baba" stroke="#f0baba" stroke-width="0.05" font-style="italic" textLength="15.5" lengthAdjust="spacingAndGlyphs">PIP5K1B</text>
<rect x="223.30" y="288.80" width="26.00" height="8.30" fill="#d0383e" stroke="#5e1618" stroke-width="0.9" rx="2.4"/>
<text x="236.30" y="294.65" font-size="5.29" text-anchor="middle" fill="#f0baba" stroke="#f0baba" stroke-width="0.05" font-style="italic" textLength="17.2" lengthAdjust="spacingAndGlyphs">HIST1H4P</text>
<rect x="156.70" y="291.80" width="16.20" height="8.40" fill="#d0383e" stroke="#5e1618" stroke-width="0.9" rx="2.4"/>
<text x="164.80" y="297.70" font-size="5.29" text-anchor="middle" fill="#f0baba" stroke="#f0baba" stroke-width="0.05" font-style="italic" textLength="10.9" lengthAdjust="spacingAndGlyphs">ELL3</text>
<rect x="191.70" y="297.50" width="21.70" height="8.50" fill="#d0383e" stroke="#5e1618" stroke-width="0.9" rx="2.4"/>
<text x="202.55" y="303.45" font-size="5.29" text-anchor="middle" fill="#f0baba" stroke="#f0baba" stroke-width="0.05" font-style="italic" textLength="14.4" lengthAdjust="spacingAndGlyphs">TNFSF4</text>
<rect x="224.60" y="303.40" width="24.90" height="8.30" fill="#d0383e" stroke="#5e1618" stroke-width="0.9" rx="2.4"/>
<text x="237.05" y="309.25" font-size="5.29" text-anchor="middle" fill="#f0baba" stroke="#f0baba" stroke-width="0.05" font-style="italic" textLength="16.4" lengthAdjust="spacingAndGlyphs">DNAJC3B</text>
<rect x="133.90" y="306.20" width="19.40" height="8.70" fill="#d0383e" stroke="#5e1618" stroke-width="0.9" rx="2.4"/>
<text x="143.60" y="312.25" font-size="5.29" text-anchor="middle" fill="#f0baba" stroke="#f0baba" stroke-width="0.05" font-style="italic" textLength="12.9" lengthAdjust="spacingAndGlyphs">CXCD2</text>
<rect x="210.00" y="327.40" width="21.60" height="8.60" fill="#d0383e" stroke="#5e1618" stroke-width="0.9" rx="2.4"/>
<text x="220.80" y="333.40" font-size="5.29" text-anchor="middle" fill="#f0baba" stroke="#f0baba" stroke-width="0.05" font-style="italic" textLength="14.3" lengthAdjust="spacingAndGlyphs">PTPN14</text>
<rect x="229.20" y="327.40" width="20.40" height="8.60" fill="#d0383e" stroke="#5e1618" stroke-width="0.9" rx="2.4"/>
<text x="239.40" y="333.40" font-size="5.29" text-anchor="middle" fill="#f0baba" stroke="#f0baba" stroke-width="0.05" font-style="italic" textLength="13.6" lengthAdjust="spacingAndGlyphs">DOCK5</text>
<rect x="229.00" y="327.60" width="3.00" height="8.20" fill="#9a1e24"/>
<line x1="299.20" y1="184.59" x2="299.20" y2="244.12" stroke="#2e2e2e" stroke-width="1.3"/>
<line x1="298.70" y1="244.12" x2="347.20" y2="244.12" stroke="#2e2e2e" stroke-width="1.3"/>
<line x1="295.80" y1="244.12" x2="299.20" y2="244.12" stroke="#2e2e2e" stroke-width="0.9"/>
<text x="292.60" y="246.82" font-size="8.28" text-anchor="end" fill="#1c1c1c" stroke="#1c1c1c" stroke-width="0.3" textLength="8.21" lengthAdjust="spacingAndGlyphs">−4</text>
<line x1="295.80" y1="236.86" x2="299.20" y2="236.86" stroke="#2e2e2e" stroke-width="0.9"/>
<text x="292.60" y="239.56" font-size="8.28" text-anchor="end" fill="#1c1c1c" stroke="#1c1c1c" stroke-width="0.3" textLength="8.21" lengthAdjust="spacingAndGlyphs">−2</text>
<line x1="295.80" y1="229.60" x2="299.20" y2="229.60" stroke="#2e2e2e" stroke-width="0.9"/>
<text x="292.60" y="232.30" font-size="8.28" text-anchor="end" fill="#1c1c1c" stroke="#1c1c1c" stroke-width="0.3" textLength="4.0" lengthAdjust="spacingAndGlyphs">0</text>
<line x1="295.80" y1="222.34" x2="299.20" y2="222.34" stroke="#2e2e2e" stroke-width="0.9"/>
<text x="292.60" y="225.04" font-size="8.28" text-anchor="end" fill="#1c1c1c" stroke="#1c1c1c" stroke-width="0.3" textLength="4.0" lengthAdjust="spacingAndGlyphs">2</text>
<line x1="295.80" y1="215.08" x2="299.20" y2="215.08" stroke="#2e2e2e" stroke-width="0.9"/>
<text x="292.60" y="217.78" font-size="8.28" text-anchor="end" fill="#1c1c1c" stroke="#1c1c1c" stroke-width="0.3" textLength="4.0" lengthAdjust="spacingAndGlyphs">4</text>
<line x1="295.80" y1="207.82" x2="299.20" y2="207.82" stroke="#2e2e2e" stroke-width="0.9"/>
<text x="292.60" y="210.52" font-size="8.28" text-anchor="end" fill="#1c1c1c" stroke="#1c1c1c" stroke-width="0.3" textLength="4.0" lengthAdjust="spacingAndGlyphs">6</text>
<line x1="295.80" y1="200.56" x2="299.20" y2="200.56" stroke="#2e2e2e" stroke-width="0.9"/>
<text x="292.60" y="203.26" font-size="8.28" text-anchor="end" fill="#1c1c1c" stroke="#1c1c1c" stroke-width="0.3" textLength="4.0" lengthAdjust="spacingAndGlyphs">8</text>
<line x1="295.80" y1="193.30" x2="299.20" y2="193.30" stroke="#2e2e2e" stroke-width="0.9"/>
<text x="292.60" y="196.00" font-size="8.28" text-anchor="end" fill="#1c1c1c" stroke="#1c1c1c" stroke-width="0.3" textLength="8.01" lengthAdjust="spacingAndGlyphs">10</text>
<line x1="295.80" y1="186.04" x2="299.20" y2="186.04" stroke="#2e2e2e" stroke-width="0.9"/>
<text x="292.60" y="188.74" font-size="8.28" text-anchor="end" fill="#1c1c1c" stroke="#1c1c1c" stroke-width="0.3" textLength="8.01" lengthAdjust="spacingAndGlyphs">12</text>
<rect x="303.20" y="224.16" width="10.20" height="5.14" fill="#9d9da7"/>
<rect x="317.50" y="214.35" width="10.20" height="14.95" fill="#8d9cc5"/>
<rect x="332.40" y="208.55" width="10.20" height="20.75" fill="#e8897a"/>
<line x1="299.20" y1="229.30" x2="346.70" y2="229.30" stroke="#2a2a2a" stroke-width="1.25" stroke-dasharray="2.6,1.9"/>
<line x1="308.30" y1="244.12" x2="308.30" y2="246.42" stroke="#2e2e2e" stroke-width="0.9"/>
<line x1="322.60" y1="244.12" x2="322.60" y2="246.42" stroke="#2e2e2e" stroke-width="0.9"/>
<line x1="337.50" y1="244.12" x2="337.50" y2="246.42" stroke="#2e2e2e" stroke-width="0.9"/>
<line x1="308.30" y1="226.70" x2="308.30" y2="221.61" stroke="#1a1a1a" stroke-width="1.0"/>
<line x1="307.50" y1="226.70" x2="309.10" y2="226.70" stroke="#1a1a1a" stroke-width="1.0"/>
<line x1="307.50" y1="221.61" x2="309.10" y2="221.61" stroke="#1a1a1a" stroke-width="1.0"/>
<line x1="322.60" y1="215.81" x2="322.60" y2="212.90" stroke="#1a1a1a" stroke-width="1.0"/>
<line x1="321.80" y1="215.81" x2="323.40" y2="215.81" stroke="#1a1a1a" stroke-width="1.0"/>
<line x1="321.80" y1="212.90" x2="323.40" y2="212.90" stroke="#1a1a1a" stroke-width="1.0"/>
<line x1="337.50" y1="210.72" x2="337.50" y2="206.37" stroke="#1a1a1a" stroke-width="1.0"/>
<line x1="336.70" y1="210.72" x2="338.30" y2="210.72" stroke="#1a1a1a" stroke-width="1.0"/>
<line x1="336.70" y1="206.37" x2="338.30" y2="206.37" stroke="#1a1a1a" stroke-width="1.0"/>
<circle cx="308.40" cy="213.99" r="1.3" fill="#343437" stroke="#000000" stroke-width="1.05"/>
<circle cx="308.00" cy="223.79" r="1.3" fill="#343437" stroke="#000000" stroke-width="1.05"/>
<circle cx="309.30" cy="226.70" r="1.3" fill="#343437" stroke="#000000" stroke-width="1.05"/>
<circle cx="306.60" cy="227.78" r="1.3" fill="#343437" stroke="#000000" stroke-width="1.05"/>
<circle cx="310.20" cy="227.78" r="1.3" fill="#343437" stroke="#000000" stroke-width="1.05"/>
<circle cx="308.20" cy="225.97" r="1.3" fill="#343437" stroke="#000000" stroke-width="1.05"/>
<circle cx="309.70" cy="224.88" r="1.3" fill="#343437" stroke="#000000" stroke-width="1.05"/>
<circle cx="322.60" cy="210.00" r="1.3" fill="#1a2b50" stroke="#050c1c" stroke-width="1.05"/>
<circle cx="320.30" cy="213.26" r="1.3" fill="#1a2b50" stroke="#050c1c" stroke-width="1.05"/>
<circle cx="323.00" cy="213.99" r="1.3" fill="#1a2b50" stroke="#050c1c" stroke-width="1.05"/>
<circle cx="325.80" cy="213.63" r="1.3" fill="#1a2b50" stroke="#050c1c" stroke-width="1.05"/>
<circle cx="324.00" cy="214.72" r="1.3" fill="#1a2b50" stroke="#050c1c" stroke-width="1.05"/>
<circle cx="338.50" cy="204.92" r="1.3" fill="#6e1424" stroke="#33060c" stroke-width="1.05"/>
<circle cx="336.70" cy="207.09" r="1.3" fill="#6e1424" stroke="#33060c" stroke-width="1.05"/>
<circle cx="339.40" cy="208.55" r="1.3" fill="#6e1424" stroke="#33060c" stroke-width="1.05"/>
<circle cx="335.80" cy="209.63" r="1.3" fill="#6e1424" stroke="#33060c" stroke-width="1.05"/>
<circle cx="337.60" cy="210.72" r="1.3" fill="#6e1424" stroke="#33060c" stroke-width="1.05"/>
<circle cx="339.20" cy="206.00" r="1.3" fill="#6e1424" stroke="#33060c" stroke-width="1.05"/>
<text x="313.00" y="252.42" font-size="8.97" text-anchor="end" fill="#1c1c1c" stroke="#1c1c1c" stroke-width="0.3" textLength="21.0" lengthAdjust="spacingAndGlyphs" transform="rotate(-45 313.00 252.42)">UNTR</text>
<text x="327.30" y="252.42" font-size="8.97" text-anchor="end" fill="#1c1c1c" stroke="#1c1c1c" stroke-width="0.3" textLength="25.5" lengthAdjust="spacingAndGlyphs" transform="rotate(-45 327.30 252.42)">FMC63</text>
<text x="342.20" y="252.42" font-size="8.97" text-anchor="end" fill="#1c1c1c" stroke="#1c1c1c" stroke-width="0.3" textLength="14.6" lengthAdjust="spacingAndGlyphs" transform="rotate(-45 342.20 252.42)">CAT</text>
<line x1="309.70" y1="176.40" x2="339.70" y2="176.40" stroke="#363636" stroke-width="1.0"/>
<text x="324.70" y="173.50" font-size="8.05" text-anchor="middle" fill="#1c1c1c" stroke="#1c1c1c" stroke-width="0.3" textLength="29.0" lengthAdjust="spacingAndGlyphs">8.22e<tspan font-size="4.8" dy="-2.6">−07</tspan></text>
<line x1="307.70" y1="188.80" x2="324.20" y2="188.80" stroke="#363636" stroke-width="1.0"/>
<text x="315.95" y="186.30" font-size="8.05" text-anchor="middle" fill="#1c1c1c" stroke="#1c1c1c" stroke-width="0.3" textLength="19.0" lengthAdjust="spacingAndGlyphs">0.003</text>
<line x1="322.70" y1="201.60" x2="338.70" y2="201.60" stroke="#363636" stroke-width="1.0"/>
<text x="330.70" y="199.10" font-size="8.05" text-anchor="middle" fill="#1c1c1c" stroke="#1c1c1c" stroke-width="0.3" textLength="19.2" lengthAdjust="spacingAndGlyphs">0.018</text>
<text x="279.20" y="213.80" font-size="8.0" text-anchor="middle" fill="#1c1c1c" stroke="#1c1c1c" stroke-width="0.45" textLength="42.5" lengthAdjust="spacingAndGlyphs" transform="rotate(-90 279.20 213.80)">log<tspan font-size="5.6" dy="1.7">2</tspan><tspan dy="-1.7">CPM </tspan><tspan font-style="italic">IFNG</tspan></text>
<line x1="385.50" y1="184.59" x2="385.50" y2="244.12" stroke="#2e2e2e" stroke-width="1.3"/>
<line x1="385.00" y1="244.12" x2="433.50" y2="244.12" stroke="#2e2e2e" stroke-width="1.3"/>
<line x1="382.10" y1="244.12" x2="385.50" y2="244.12" stroke="#2e2e2e" stroke-width="0.9"/>
<text x="378.90" y="246.82" font-size="8.28" text-anchor="end" fill="#1c1c1c" stroke="#1c1c1c" stroke-width="0.3" textLength="8.21" lengthAdjust="spacingAndGlyphs">−4</text>
<line x1="382.10" y1="236.86" x2="385.50" y2="236.86" stroke="#2e2e2e" stroke-width="0.9"/>
<text x="378.90" y="239.56" font-size="8.28" text-anchor="end" fill="#1c1c1c" stroke="#1c1c1c" stroke-width="0.3" textLength="8.21" lengthAdjust="spacingAndGlyphs">−2</text>
<line x1="382.10" y1="229.60" x2="385.50" y2="229.60" stroke="#2e2e2e" stroke-width="0.9"/>
<text x="378.90" y="232.30" font-size="8.28" text-anchor="end" fill="#1c1c1c" stroke="#1c1c1c" stroke-width="0.3" textLength="4.0" lengthAdjust="spacingAndGlyphs">0</text>
<line x1="382.10" y1="222.34" x2="385.50" y2="222.34" stroke="#2e2e2e" stroke-width="0.9"/>
<text x="378.90" y="225.04" font-size="8.28" text-anchor="end" fill="#1c1c1c" stroke="#1c1c1c" stroke-width="0.3" textLength="4.0" lengthAdjust="spacingAndGlyphs">2</text>
<line x1="382.10" y1="215.08" x2="385.50" y2="215.08" stroke="#2e2e2e" stroke-width="0.9"/>
<text x="378.90" y="217.78" font-size="8.28" text-anchor="end" fill="#1c1c1c" stroke="#1c1c1c" stroke-width="0.3" textLength="4.0" lengthAdjust="spacingAndGlyphs">4</text>
<line x1="382.10" y1="207.82" x2="385.50" y2="207.82" stroke="#2e2e2e" stroke-width="0.9"/>
<text x="378.90" y="210.52" font-size="8.28" text-anchor="end" fill="#1c1c1c" stroke="#1c1c1c" stroke-width="0.3" textLength="4.0" lengthAdjust="spacingAndGlyphs">6</text>
<line x1="382.10" y1="200.56" x2="385.50" y2="200.56" stroke="#2e2e2e" stroke-width="0.9"/>
<text x="378.90" y="203.26" font-size="8.28" text-anchor="end" fill="#1c1c1c" stroke="#1c1c1c" stroke-width="0.3" textLength="4.0" lengthAdjust="spacingAndGlyphs">8</text>
<line x1="382.10" y1="193.30" x2="385.50" y2="193.30" stroke="#2e2e2e" stroke-width="0.9"/>
<text x="378.90" y="196.00" font-size="8.28" text-anchor="end" fill="#1c1c1c" stroke="#1c1c1c" stroke-width="0.3" textLength="8.01" lengthAdjust="spacingAndGlyphs">10</text>
<line x1="382.10" y1="186.04" x2="385.50" y2="186.04" stroke="#2e2e2e" stroke-width="0.9"/>
<text x="378.90" y="188.74" font-size="8.28" text-anchor="end" fill="#1c1c1c" stroke="#1c1c1c" stroke-width="0.3" textLength="8.01" lengthAdjust="spacingAndGlyphs">12</text>
<rect x="389.50" y="229.60" width="10.20" height="1.09" fill="#9d9da7"/>
<rect x="403.80" y="220.16" width="10.20" height="9.14" fill="#8d9cc5"/>
<rect x="418.70" y="214.35" width="10.20" height="14.95" fill="#e8897a"/>
<line x1="385.50" y1="229.30" x2="433.00" y2="229.30" stroke="#2a2a2a" stroke-width="1.25" stroke-dasharray="2.6,1.9"/>
<line x1="394.60" y1="244.12" x2="394.60" y2="246.42" stroke="#2e2e2e" stroke-width="0.9"/>
<line x1="408.90" y1="244.12" x2="408.90" y2="246.42" stroke="#2e2e2e" stroke-width="0.9"/>
<line x1="423.80" y1="244.12" x2="423.80" y2="246.42" stroke="#2e2e2e" stroke-width="0.9"/>
<line x1="394.60" y1="233.96" x2="394.60" y2="227.42" stroke="#1a1a1a" stroke-width="1.0"/>
<line x1="393.80" y1="233.96" x2="395.40" y2="233.96" stroke="#1a1a1a" stroke-width="1.0"/>
<line x1="393.80" y1="227.42" x2="395.40" y2="227.42" stroke="#1a1a1a" stroke-width="1.0"/>
<line x1="408.90" y1="223.07" x2="408.90" y2="216.53" stroke="#1a1a1a" stroke-width="1.0"/>
<line x1="408.10" y1="223.07" x2="409.70" y2="223.07" stroke="#1a1a1a" stroke-width="1.0"/>
<line x1="408.10" y1="216.53" x2="409.70" y2="216.53" stroke="#1a1a1a" stroke-width="1.0"/>
<line x1="423.80" y1="220.16" x2="423.80" y2="208.55" stroke="#1a1a1a" stroke-width="1.0"/>
<line x1="423.00" y1="220.16" x2="424.60" y2="220.16" stroke="#1a1a1a" stroke-width="1.0"/>
<line x1="423.00" y1="208.55" x2="424.60" y2="208.55" stroke="#1a1a1a" stroke-width="1.0"/>
<circle cx="397.20" cy="213.99" r="1.3" fill="#343437" stroke="#000000" stroke-width="1.05"/>
<circle cx="393.20" cy="229.60" r="1.3" fill="#343437" stroke="#000000" stroke-width="1.05"/>
<circle cx="391.80" cy="232.87" r="1.3" fill="#343437" stroke="#000000" stroke-width="1.05"/>
<circle cx="395.00" cy="233.96" r="1.3" fill="#343437" stroke="#000000" stroke-width="1.05"/>
<circle cx="393.20" cy="236.50" r="1.3" fill="#343437" stroke="#000000" stroke-width="1.05"/>
<circle cx="395.90" cy="236.86" r="1.3" fill="#343437" stroke="#000000" stroke-width="1.05"/>
<circle cx="406.00" cy="212.90" r="1.3" fill="#1a2b50" stroke="#050c1c" stroke-width="1.05"/>
<circle cx="409.60" cy="213.99" r="1.3" fill="#1a2b50" stroke="#050c1c" stroke-width="1.05"/>
<circle cx="406.90" cy="218.35" r="1.3" fill="#1a2b50" stroke="#050c1c" stroke-width="1.05"/>
<circle cx="408.70" cy="223.07" r="1.3" fill="#1a2b50" stroke="#050c1c" stroke-width="1.05"/>
<circle cx="407.80" cy="224.88" r="1.3" fill="#1a2b50" stroke="#050c1c" stroke-width="1.05"/>
<circle cx="425.20" cy="207.82" r="1.3" fill="#6e1424" stroke="#33060c" stroke-width="1.05"/>
<circle cx="422.40" cy="212.90" r="1.3" fill="#6e1424" stroke="#33060c" stroke-width="1.05"/>
<circle cx="421.50" cy="215.81" r="1.3" fill="#6e1424" stroke="#33060c" stroke-width="1.05"/>
<circle cx="424.60" cy="220.16" r="1.3" fill="#6e1424" stroke="#33060c" stroke-width="1.05"/>
<circle cx="424.20" cy="227.78" r="1.3" fill="#6e1424" stroke="#33060c" stroke-width="1.05"/>
<text x="399.30" y="252.42" font-size="8.97" text-anchor="end" fill="#1c1c1c" stroke="#1c1c1c" stroke-width="0.3" textLength="21.0" lengthAdjust="spacingAndGlyphs" transform="rotate(-45 399.30 252.42)">UNTR</text>
<text x="413.60" y="252.42" font-size="8.97" text-anchor="end" fill="#1c1c1c" stroke="#1c1c1c" stroke-width="0.3" textLength="25.5" lengthAdjust="spacingAndGlyphs" transform="rotate(-45 413.60 252.42)">FMC63</text>
<text x="428.50" y="252.42" font-size="8.97" text-anchor="end" fill="#1c1c1c" stroke="#1c1c1c" stroke-width="0.3" textLength="14.6" lengthAdjust="spacingAndGlyphs" transform="rotate(-45 428.50 252.42)">CAT</text>
<line x1="395.20" y1="181.00" x2="424.40" y2="181.00" stroke="#363636" stroke-width="1.0"/>
<text x="409.80" y="178.60" font-size="8.05" text-anchor="middle" fill="#1c1c1c" stroke="#1c1c1c" stroke-width="0.3" textLength="28.5" lengthAdjust="spacingAndGlyphs">3.37e<tspan font-size="4.8" dy="-2.6">−09</tspan></text>
<line x1="394.60" y1="193.20" x2="409.50" y2="193.20" stroke="#363636" stroke-width="1.0"/>
<text x="402.05" y="191.00" font-size="8.05" text-anchor="middle" fill="#1c1c1c" stroke="#1c1c1c" stroke-width="0.3" textLength="27.4" lengthAdjust="spacingAndGlyphs">1.67e<tspan font-size="4.8" dy="-2.6">−04</tspan></text>
<line x1="409.50" y1="202.90" x2="424.50" y2="202.90" stroke="#363636" stroke-width="1.0"/>
<text x="417.00" y="200.70" font-size="8.05" text-anchor="middle" fill="#1c1c1c" stroke="#1c1c1c" stroke-width="0.3" textLength="18.7" lengthAdjust="spacingAndGlyphs">0.048</text>
<text x="364.70" y="213.70" font-size="8.0" text-anchor="middle" fill="#1c1c1c" stroke="#1c1c1c" stroke-width="0.45" textLength="43.5" lengthAdjust="spacingAndGlyphs" transform="rotate(-90 364.70 213.70)">log<tspan font-size="5.6" dy="1.7">2</tspan><tspan dy="-1.7">CPM </tspan><tspan font-style="italic">CSF2</tspan></text>
<line x1="472.30" y1="184.59" x2="472.30" y2="244.12" stroke="#2e2e2e" stroke-width="1.3"/>
<line x1="471.80" y1="244.12" x2="520.30" y2="244.12" stroke="#2e2e2e" stroke-width="1.3"/>
<line x1="468.90" y1="244.12" x2="472.30" y2="244.12" stroke="#2e2e2e" stroke-width="0.9"/>
<text x="465.70" y="246.82" font-size="8.28" text-anchor="end" fill="#1c1c1c" stroke="#1c1c1c" stroke-width="0.3" textLength="8.21" lengthAdjust="spacingAndGlyphs">−4</text>
<line x1="468.90" y1="236.86" x2="472.30" y2="236.86" stroke="#2e2e2e" stroke-width="0.9"/>
<text x="465.70" y="239.56" font-size="8.28" text-anchor="end" fill="#1c1c1c" stroke="#1c1c1c" stroke-width="0.3" textLength="8.21" lengthAdjust="spacingAndGlyphs">−2</text>
<line x1="468.90" y1="229.60" x2="472.30" y2="229.60" stroke="#2e2e2e" stroke-width="0.9"/>
<text x="465.70" y="232.30" font-size="8.28" text-anchor="end" fill="#1c1c1c" stroke="#1c1c1c" stroke-width="0.3" textLength="4.0" lengthAdjust="spacingAndGlyphs">0</text>
<line x1="468.90" y1="222.34" x2="472.30" y2="222.34" stroke="#2e2e2e" stroke-width="0.9"/>
<text x="465.70" y="225.04" font-size="8.28" text-anchor="end" fill="#1c1c1c" stroke="#1c1c1c" stroke-width="0.3" textLength="4.0" lengthAdjust="spacingAndGlyphs">2</text>
<line x1="468.90" y1="215.08" x2="472.30" y2="215.08" stroke="#2e2e2e" stroke-width="0.9"/>
<text x="465.70" y="217.78" font-size="8.28" text-anchor="end" fill="#1c1c1c" stroke="#1c1c1c" stroke-width="0.3" textLength="4.0" lengthAdjust="spacingAndGlyphs">4</text>
<line x1="468.90" y1="207.82" x2="472.30" y2="207.82" stroke="#2e2e2e" stroke-width="0.9"/>
<text x="465.70" y="210.52" font-size="8.28" text-anchor="end" fill="#1c1c1c" stroke="#1c1c1c" stroke-width="0.3" textLength="4.0" lengthAdjust="spacingAndGlyphs">6</text>
<line x1="468.90" y1="200.56" x2="472.30" y2="200.56" stroke="#2e2e2e" stroke-width="0.9"/>
<text x="465.70" y="203.26" font-size="8.28" text-anchor="end" fill="#1c1c1c" stroke="#1c1c1c" stroke-width="0.3" textLength="4.0" lengthAdjust="spacingAndGlyphs">8</text>
<line x1="468.90" y1="193.30" x2="472.30" y2="193.30" stroke="#2e2e2e" stroke-width="0.9"/>
<text x="465.70" y="196.00" font-size="8.28" text-anchor="end" fill="#1c1c1c" stroke="#1c1c1c" stroke-width="0.3" textLength="8.01" lengthAdjust="spacingAndGlyphs">10</text>
<line x1="468.90" y1="186.04" x2="472.30" y2="186.04" stroke="#2e2e2e" stroke-width="0.9"/>
<text x="465.70" y="188.74" font-size="8.28" text-anchor="end" fill="#1c1c1c" stroke="#1c1c1c" stroke-width="0.3" textLength="8.01" lengthAdjust="spacingAndGlyphs">12</text>
<rect x="476.30" y="217.26" width="10.20" height="12.04" fill="#9d9da7"/>
<rect x="490.60" y="206.37" width="10.20" height="22.93" fill="#8d9cc5"/>
<rect x="505.50" y="202.38" width="10.20" height="26.92" fill="#e8897a"/>
<line x1="472.30" y1="229.30" x2="519.80" y2="229.30" stroke="#2a2a2a" stroke-width="1.25" stroke-dasharray="2.6,1.9"/>
<line x1="481.40" y1="244.12" x2="481.40" y2="246.42" stroke="#2e2e2e" stroke-width="0.9"/>
<line x1="495.70" y1="244.12" x2="495.70" y2="246.42" stroke="#2e2e2e" stroke-width="0.9"/>
<line x1="510.60" y1="244.12" x2="510.60" y2="246.42" stroke="#2e2e2e" stroke-width="0.9"/>
<line x1="481.40" y1="222.70" x2="481.40" y2="211.81" stroke="#1a1a1a" stroke-width="1.0"/>
<line x1="480.60" y1="222.70" x2="482.20" y2="222.70" stroke="#1a1a1a" stroke-width="1.0"/>
<line x1="480.60" y1="211.81" x2="482.20" y2="211.81" stroke="#1a1a1a" stroke-width="1.0"/>
<line x1="495.70" y1="207.46" x2="495.70" y2="205.28" stroke="#1a1a1a" stroke-width="1.0"/>
<line x1="494.90" y1="207.46" x2="496.50" y2="207.46" stroke="#1a1a1a" stroke-width="1.0"/>
<line x1="494.90" y1="205.28" x2="496.50" y2="205.28" stroke="#1a1a1a" stroke-width="1.0"/>
<line x1="510.60" y1="203.83" x2="510.60" y2="200.56" stroke="#1a1a1a" stroke-width="1.0"/>
<line x1="509.80" y1="203.83" x2="511.40" y2="203.83" stroke="#1a1a1a" stroke-width="1.0"/>
<line x1="509.80" y1="200.56" x2="511.40" y2="200.56" stroke="#1a1a1a" stroke-width="1.0"/>
<circle cx="477.20" cy="208.91" r="1.3" fill="#343437" stroke="#000000" stroke-width="1.05"/>
<circle cx="482.30" cy="208.91" r="1.3" fill="#343437" stroke="#000000" stroke-width="1.05"/>
<circle cx="483.30" cy="213.99" r="1.3" fill="#343437" stroke="#000000" stroke-width="1.05"/>
<circle cx="480.50" cy="218.35" r="1.3" fill="#343437" stroke="#000000" stroke-width="1.05"/>
<circle cx="479.60" cy="223.79" r="1.3" fill="#343437" stroke="#000000" stroke-width="1.05"/>
<circle cx="480.50" cy="228.87" r="1.3" fill="#343437" stroke="#000000" stroke-width="1.05"/>
<circle cx="494.20" cy="205.28" r="1.3" fill="#1a2b50" stroke="#050c1c" stroke-width="1.05"/>
<circle cx="496.90" cy="205.64" r="1.3" fill="#1a2b50" stroke="#050c1c" stroke-width="1.05"/>
<circle cx="498.80" cy="206.73" r="1.3" fill="#1a2b50" stroke="#050c1c" stroke-width="1.05"/>
<circle cx="495.50" cy="207.09" r="1.3" fill="#1a2b50" stroke="#050c1c" stroke-width="1.05"/>
<circle cx="511.50" cy="199.83" r="1.3" fill="#6e1424" stroke="#33060c" stroke-width="1.05"/>
<circle cx="509.70" cy="202.01" r="1.3" fill="#6e1424" stroke="#33060c" stroke-width="1.05"/>
<circle cx="507.90" cy="203.46" r="1.3" fill="#6e1424" stroke="#33060c" stroke-width="1.05"/>
<circle cx="512.50" cy="203.46" r="1.3" fill="#6e1424" stroke="#33060c" stroke-width="1.05"/>
<circle cx="510.60" cy="204.19" r="1.3" fill="#6e1424" stroke="#33060c" stroke-width="1.05"/>
<text x="486.10" y="252.42" font-size="8.97" text-anchor="end" fill="#1c1c1c" stroke="#1c1c1c" stroke-width="0.3" textLength="21.0" lengthAdjust="spacingAndGlyphs" transform="rotate(-45 486.10 252.42)">UNTR</text>
<text x="500.40" y="252.42" font-size="8.97" text-anchor="end" fill="#1c1c1c" stroke="#1c1c1c" stroke-width="0.3" textLength="25.5" lengthAdjust="spacingAndGlyphs" transform="rotate(-45 500.40 252.42)">FMC63</text>
<text x="515.30" y="252.42" font-size="8.97" text-anchor="end" fill="#1c1c1c" stroke="#1c1c1c" stroke-width="0.3" textLength="14.6" lengthAdjust="spacingAndGlyphs" transform="rotate(-45 515.30 252.42)">CAT</text>
<line x1="480.40" y1="174.60" x2="510.40" y2="174.60" stroke="#363636" stroke-width="1.0"/>
<text x="495.40" y="172.20" font-size="8.05" text-anchor="middle" fill="#1c1c1c" stroke="#1c1c1c" stroke-width="0.3" textLength="28.3" lengthAdjust="spacingAndGlyphs">9.28e<tspan font-size="4.8" dy="-2.6">−08</tspan></text>
<line x1="480.40" y1="186.80" x2="495.10" y2="186.80" stroke="#363636" stroke-width="1.0"/>
<text x="487.75" y="184.40" font-size="8.05" text-anchor="middle" fill="#1c1c1c" stroke="#1c1c1c" stroke-width="0.3" textLength="17.9" lengthAdjust="spacingAndGlyphs">0.001</text>
<line x1="495.60" y1="196.90" x2="510.40" y2="196.90" stroke="#363636" stroke-width="1.0"/>
<text x="503.00" y="194.50" font-size="8.05" text-anchor="middle" fill="#1c1c1c" stroke="#1c1c1c" stroke-width="0.3" textLength="19.1" lengthAdjust="spacingAndGlyphs">0.002</text>
<text x="450.90" y="214.00" font-size="8.0" text-anchor="middle" fill="#1c1c1c" stroke="#1c1c1c" stroke-width="0.45" textLength="42.0" lengthAdjust="spacingAndGlyphs" transform="rotate(-90 450.90 214.00)">log<tspan font-size="5.6" dy="1.7">2</tspan><tspan dy="-1.7">CPM </tspan><tspan font-style="italic">CIITA</tspan></text>
<line x1="299.20" y1="292.72" x2="299.20" y2="352.74" stroke="#2e2e2e" stroke-width="1.3"/>
<line x1="298.70" y1="352.74" x2="347.20" y2="352.74" stroke="#2e2e2e" stroke-width="1.3"/>
<line x1="295.80" y1="352.74" x2="299.20" y2="352.74" stroke="#2e2e2e" stroke-width="0.9"/>
<text x="292.60" y="355.44" font-size="8.28" text-anchor="end" fill="#1c1c1c" stroke="#1c1c1c" stroke-width="0.3" textLength="8.21" lengthAdjust="spacingAndGlyphs">−4</text>
<line x1="295.80" y1="345.42" x2="299.20" y2="345.42" stroke="#2e2e2e" stroke-width="0.9"/>
<text x="292.60" y="348.12" font-size="8.28" text-anchor="end" fill="#1c1c1c" stroke="#1c1c1c" stroke-width="0.3" textLength="8.21" lengthAdjust="spacingAndGlyphs">−2</text>
<line x1="295.80" y1="338.10" x2="299.20" y2="338.10" stroke="#2e2e2e" stroke-width="0.9"/>
<text x="292.60" y="340.80" font-size="8.28" text-anchor="end" fill="#1c1c1c" stroke="#1c1c1c" stroke-width="0.3" textLength="4.0" lengthAdjust="spacingAndGlyphs">0</text>
<line x1="295.80" y1="330.78" x2="299.20" y2="330.78" stroke="#2e2e2e" stroke-width="0.9"/>
<text x="292.60" y="333.48" font-size="8.28" text-anchor="end" fill="#1c1c1c" stroke="#1c1c1c" stroke-width="0.3" textLength="4.0" lengthAdjust="spacingAndGlyphs">2</text>
<line x1="295.80" y1="323.46" x2="299.20" y2="323.46" stroke="#2e2e2e" stroke-width="0.9"/>
<text x="292.60" y="326.16" font-size="8.28" text-anchor="end" fill="#1c1c1c" stroke="#1c1c1c" stroke-width="0.3" textLength="4.0" lengthAdjust="spacingAndGlyphs">4</text>
<line x1="295.80" y1="316.14" x2="299.20" y2="316.14" stroke="#2e2e2e" stroke-width="0.9"/>
<text x="292.60" y="318.84" font-size="8.28" text-anchor="end" fill="#1c1c1c" stroke="#1c1c1c" stroke-width="0.3" textLength="4.0" lengthAdjust="spacingAndGlyphs">6</text>
<line x1="295.80" y1="308.82" x2="299.20" y2="308.82" stroke="#2e2e2e" stroke-width="0.9"/>
<text x="292.60" y="311.52" font-size="8.28" text-anchor="end" fill="#1c1c1c" stroke="#1c1c1c" stroke-width="0.3" textLength="4.0" lengthAdjust="spacingAndGlyphs">8</text>
<line x1="295.80" y1="301.50" x2="299.20" y2="301.50" stroke="#2e2e2e" stroke-width="0.9"/>
<text x="292.60" y="304.20" font-size="8.28" text-anchor="end" fill="#1c1c1c" stroke="#1c1c1c" stroke-width="0.3" textLength="8.01" lengthAdjust="spacingAndGlyphs">10</text>
<line x1="295.80" y1="294.18" x2="299.20" y2="294.18" stroke="#2e2e2e" stroke-width="0.9"/>
<text x="292.60" y="296.88" font-size="8.28" text-anchor="end" fill="#1c1c1c" stroke="#1c1c1c" stroke-width="0.3" textLength="8.01" lengthAdjust="spacingAndGlyphs">12</text>
<rect x="303.20" y="330.78" width="10.20" height="7.02" fill="#9d9da7"/>
<rect x="317.50" y="319.80" width="10.20" height="18.00" fill="#8d9cc5"/>
<rect x="332.40" y="326.75" width="10.20" height="11.05" fill="#e8897a"/>
<line x1="299.20" y1="337.80" x2="346.70" y2="337.80" stroke="#2a2a2a" stroke-width="1.25" stroke-dasharray="2.6,1.9"/>
<line x1="308.30" y1="352.74" x2="308.30" y2="355.04" stroke="#2e2e2e" stroke-width="0.9"/>
<line x1="322.60" y1="352.74" x2="322.60" y2="355.04" stroke="#2e2e2e" stroke-width="0.9"/>
<line x1="337.50" y1="352.74" x2="337.50" y2="355.04" stroke="#2e2e2e" stroke-width="0.9"/>
<line x1="308.30" y1="334.81" x2="308.30" y2="326.75" stroke="#1a1a1a" stroke-width="1.0"/>
<line x1="307.50" y1="334.81" x2="309.10" y2="334.81" stroke="#1a1a1a" stroke-width="1.0"/>
<line x1="307.50" y1="326.75" x2="309.10" y2="326.75" stroke="#1a1a1a" stroke-width="1.0"/>
<line x1="322.60" y1="322.73" x2="322.60" y2="316.87" stroke="#1a1a1a" stroke-width="1.0"/>
<line x1="321.80" y1="322.73" x2="323.40" y2="322.73" stroke="#1a1a1a" stroke-width="1.0"/>
<line x1="321.80" y1="316.87" x2="323.40" y2="316.87" stroke="#1a1a1a" stroke-width="1.0"/>
<line x1="337.50" y1="331.51" x2="337.50" y2="322.00" stroke="#1a1a1a" stroke-width="1.0"/>
<line x1="336.70" y1="331.51" x2="338.30" y2="331.51" stroke="#1a1a1a" stroke-width="1.0"/>
<line x1="336.70" y1="322.00" x2="338.30" y2="322.00" stroke="#1a1a1a" stroke-width="1.0"/>
<circle cx="311.40" cy="317.60" r="1.3" fill="#343437" stroke="#000000" stroke-width="1.05"/>
<circle cx="305.40" cy="327.85" r="1.3" fill="#343437" stroke="#000000" stroke-width="1.05"/>
<circle cx="309.60" cy="327.85" r="1.3" fill="#343437" stroke="#000000" stroke-width="1.05"/>
<circle cx="308.70" cy="334.07" r="1.3" fill="#343437" stroke="#000000" stroke-width="1.05"/>
<circle cx="308.70" cy="339.93" r="1.3" fill="#343437" stroke="#000000" stroke-width="1.05"/>
<circle cx="322.90" cy="311.75" r="1.3" fill="#1a2b50" stroke="#050c1c" stroke-width="1.05"/>
<circle cx="325.10" cy="313.58" r="1.3" fill="#1a2b50" stroke="#050c1c" stroke-width="1.05"/>
<circle cx="320.60" cy="319.80" r="1.3" fill="#1a2b50" stroke="#050c1c" stroke-width="1.05"/>
<circle cx="322.90" cy="321.26" r="1.3" fill="#1a2b50" stroke="#050c1c" stroke-width="1.05"/>
<circle cx="322.90" cy="328.22" r="1.3" fill="#1a2b50" stroke="#050c1c" stroke-width="1.05"/>
<circle cx="337.00" cy="320.17" r="1.3" fill="#6e1424" stroke="#33060c" stroke-width="1.05"/>
<circle cx="339.70" cy="324.92" r="1.3" fill="#6e1424" stroke="#33060c" stroke-width="1.05"/>
<circle cx="336.10" cy="328.22" r="1.3" fill="#6e1424" stroke="#33060c" stroke-width="1.05"/>
<circle cx="337.90" cy="337.73" r="1.3" fill="#6e1424" stroke="#33060c" stroke-width="1.05"/>
<text x="313.00" y="361.04" font-size="8.97" text-anchor="end" fill="#1c1c1c" stroke="#1c1c1c" stroke-width="0.3" textLength="21.0" lengthAdjust="spacingAndGlyphs" transform="rotate(-45 313.00 361.04)">UNTR</text>
<text x="327.30" y="361.04" font-size="8.97" text-anchor="end" fill="#1c1c1c" stroke="#1c1c1c" stroke-width="0.3" textLength="25.5" lengthAdjust="spacingAndGlyphs" transform="rotate(-45 327.30 361.04)">FMC63</text>
<text x="342.20" y="361.04" font-size="8.97" text-anchor="end" fill="#1c1c1c" stroke="#1c1c1c" stroke-width="0.3" textLength="14.6" lengthAdjust="spacingAndGlyphs" transform="rotate(-45 342.20 361.04)">CAT</text>
<line x1="309.10" y1="286.00" x2="338.80" y2="286.00" stroke="#363636" stroke-width="1.0"/>
<text x="323.95" y="283.70" font-size="8.05" text-anchor="middle" fill="#1c1c1c" stroke="#1c1c1c" stroke-width="0.3" textLength="20.1" lengthAdjust="spacingAndGlyphs">0.808</text>
<line x1="308.90" y1="297.50" x2="323.90" y2="297.50" stroke="#363636" stroke-width="1.0"/>
<text x="316.40" y="295.10" font-size="8.05" text-anchor="middle" fill="#1c1c1c" stroke="#1c1c1c" stroke-width="0.3" textLength="18.6" lengthAdjust="spacingAndGlyphs">0.001</text>
<line x1="323.90" y1="308.40" x2="338.90" y2="308.40" stroke="#363636" stroke-width="1.0"/>
<text x="331.40" y="306.00" font-size="8.05" text-anchor="middle" fill="#1c1c1c" stroke="#1c1c1c" stroke-width="0.3" textLength="19.2" lengthAdjust="spacingAndGlyphs">0.010</text>
<text x="277.70" y="321.90" font-size="8.0" text-anchor="middle" fill="#1c1c1c" stroke="#1c1c1c" stroke-width="0.45" textLength="65.5" lengthAdjust="spacingAndGlyphs" transform="rotate(-90 277.70 321.90)">log<tspan font-size="5.6" dy="1.7">2</tspan><tspan dy="-1.7">CPM </tspan><tspan font-style="italic">GADD45GIP1</tspan></text>
<line x1="385.50" y1="292.72" x2="385.50" y2="352.74" stroke="#2e2e2e" stroke-width="1.3"/>
<line x1="385.00" y1="352.74" x2="433.50" y2="352.74" stroke="#2e2e2e" stroke-width="1.3"/>
<line x1="382.10" y1="352.74" x2="385.50" y2="352.74" stroke="#2e2e2e" stroke-width="0.9"/>
<text x="378.90" y="355.44" font-size="8.28" text-anchor="end" fill="#1c1c1c" stroke="#1c1c1c" stroke-width="0.3" textLength="8.21" lengthAdjust="spacingAndGlyphs">−4</text>
<line x1="382.10" y1="345.42" x2="385.50" y2="345.42" stroke="#2e2e2e" stroke-width="0.9"/>
<text x="378.90" y="348.12" font-size="8.28" text-anchor="end" fill="#1c1c1c" stroke="#1c1c1c" stroke-width="0.3" textLength="8.21" lengthAdjust="spacingAndGlyphs">−2</text>
<line x1="382.10" y1="338.10" x2="385.50" y2="338.10" stroke="#2e2e2e" stroke-width="0.9"/>
<text x="378.90" y="340.80" font-size="8.28" text-anchor="end" fill="#1c1c1c" stroke="#1c1c1c" stroke-width="0.3" textLength="4.0" lengthAdjust="spacingAndGlyphs">0</text>
<line x1="382.10" y1="330.78" x2="385.50" y2="330.78" stroke="#2e2e2e" stroke-width="0.9"/>
<text x="378.90" y="333.48" font-size="8.28" text-anchor="end" fill="#1c1c1c" stroke="#1c1c1c" stroke-width="0.3" textLength="4.0" lengthAdjust="spacingAndGlyphs">2</text>
<line x1="382.10" y1="323.46" x2="385.50" y2="323.46" stroke="#2e2e2e" stroke-width="0.9"/>
<text x="378.90" y="326.16" font-size="8.28" text-anchor="end" fill="#1c1c1c" stroke="#1c1c1c" stroke-width="0.3" textLength="4.0" lengthAdjust="spacingAndGlyphs">4</text>
<line x1="382.10" y1="316.14" x2="385.50" y2="316.14" stroke="#2e2e2e" stroke-width="0.9"/>
<text x="378.90" y="318.84" font-size="8.28" text-anchor="end" fill="#1c1c1c" stroke="#1c1c1c" stroke-width="0.3" textLength="4.0" lengthAdjust="spacingAndGlyphs">6</text>
<line x1="382.10" y1="308.82" x2="385.50" y2="308.82" stroke="#2e2e2e" stroke-width="0.9"/>
<text x="378.90" y="311.52" font-size="8.28" text-anchor="end" fill="#1c1c1c" stroke="#1c1c1c" stroke-width="0.3" textLength="4.0" lengthAdjust="spacingAndGlyphs">8</text>
<line x1="382.10" y1="301.50" x2="385.50" y2="301.50" stroke="#2e2e2e" stroke-width="0.9"/>
<text x="378.90" y="304.20" font-size="8.28" text-anchor="end" fill="#1c1c1c" stroke="#1c1c1c" stroke-width="0.3" textLength="8.01" lengthAdjust="spacingAndGlyphs">10</text>
<line x1="382.10" y1="294.18" x2="385.50" y2="294.18" stroke="#2e2e2e" stroke-width="0.9"/>
<text x="378.90" y="296.88" font-size="8.28" text-anchor="end" fill="#1c1c1c" stroke="#1c1c1c" stroke-width="0.3" textLength="8.01" lengthAdjust="spacingAndGlyphs">12</text>
<rect x="389.50" y="329.32" width="10.20" height="8.48" fill="#9d9da7"/>
<rect x="403.80" y="319.07" width="10.20" height="18.73" fill="#8d9cc5"/>
<rect x="418.70" y="324.92" width="10.20" height="12.88" fill="#e8897a"/>
<line x1="385.50" y1="337.80" x2="433.00" y2="337.80" stroke="#2a2a2a" stroke-width="1.25" stroke-dasharray="2.6,1.9"/>
<line x1="394.60" y1="352.74" x2="394.60" y2="355.04" stroke="#2e2e2e" stroke-width="0.9"/>
<line x1="408.90" y1="352.74" x2="408.90" y2="355.04" stroke="#2e2e2e" stroke-width="0.9"/>
<line x1="423.80" y1="352.74" x2="423.80" y2="355.04" stroke="#2e2e2e" stroke-width="0.9"/>
<line x1="394.60" y1="332.24" x2="394.60" y2="326.02" stroke="#1a1a1a" stroke-width="1.0"/>
<line x1="393.80" y1="332.24" x2="395.40" y2="332.24" stroke="#1a1a1a" stroke-width="1.0"/>
<line x1="393.80" y1="326.02" x2="395.40" y2="326.02" stroke="#1a1a1a" stroke-width="1.0"/>
<line x1="408.90" y1="320.53" x2="408.90" y2="317.24" stroke="#1a1a1a" stroke-width="1.0"/>
<line x1="408.10" y1="320.53" x2="409.70" y2="320.53" stroke="#1a1a1a" stroke-width="1.0"/>
<line x1="408.10" y1="317.24" x2="409.70" y2="317.24" stroke="#1a1a1a" stroke-width="1.0"/>
<line x1="423.80" y1="327.12" x2="423.80" y2="322.36" stroke="#1a1a1a" stroke-width="1.0"/>
<line x1="423.00" y1="327.12" x2="424.60" y2="327.12" stroke="#1a1a1a" stroke-width="1.0"/>
<line x1="423.00" y1="322.36" x2="424.60" y2="322.36" stroke="#1a1a1a" stroke-width="1.0"/>
<circle cx="392.30" cy="317.60" r="1.3" fill="#343437" stroke="#000000" stroke-width="1.05"/>
<circle cx="395.20" cy="326.75" r="1.3" fill="#343437" stroke="#000000" stroke-width="1.05"/>
<circle cx="397.00" cy="330.41" r="1.3" fill="#343437" stroke="#000000" stroke-width="1.05"/>
<circle cx="394.60" cy="332.98" r="1.3" fill="#343437" stroke="#000000" stroke-width="1.05"/>
<circle cx="412.30" cy="315.77" r="1.3" fill="#1a2b50" stroke="#050c1c" stroke-width="1.05"/>
<circle cx="409.20" cy="317.60" r="1.3" fill="#1a2b50" stroke="#050c1c" stroke-width="1.05"/>
<circle cx="410.10" cy="319.80" r="1.3" fill="#1a2b50" stroke="#050c1c" stroke-width="1.05"/>
<circle cx="408.00" cy="319.43" r="1.3" fill="#1a2b50" stroke="#050c1c" stroke-width="1.05"/>
<circle cx="422.90" cy="320.17" r="1.3" fill="#6e1424" stroke="#33060c" stroke-width="1.05"/>
<circle cx="424.70" cy="323.09" r="1.3" fill="#6e1424" stroke="#33060c" stroke-width="1.05"/>
<circle cx="422.00" cy="324.92" r="1.3" fill="#6e1424" stroke="#33060c" stroke-width="1.05"/>
<circle cx="424.70" cy="327.49" r="1.3" fill="#6e1424" stroke="#33060c" stroke-width="1.05"/>
<circle cx="425.10" cy="329.68" r="1.3" fill="#6e1424" stroke="#33060c" stroke-width="1.05"/>
<text x="399.30" y="361.04" font-size="8.97" text-anchor="end" fill="#1c1c1c" stroke="#1c1c1c" stroke-width="0.3" textLength="21.0" lengthAdjust="spacingAndGlyphs" transform="rotate(-45 399.30 361.04)">UNTR</text>
<text x="413.60" y="361.04" font-size="8.97" text-anchor="end" fill="#1c1c1c" stroke="#1c1c1c" stroke-width="0.3" textLength="25.5" lengthAdjust="spacingAndGlyphs" transform="rotate(-45 413.60 361.04)">FMC63</text>
<text x="428.50" y="361.04" font-size="8.97" text-anchor="end" fill="#1c1c1c" stroke="#1c1c1c" stroke-width="0.3" textLength="14.6" lengthAdjust="spacingAndGlyphs" transform="rotate(-45 428.50 361.04)">CAT</text>
<line x1="395.20" y1="289.60" x2="423.90" y2="289.60" stroke="#363636" stroke-width="1.0"/>
<text x="409.55" y="287.20" font-size="8.05" text-anchor="middle" fill="#1c1c1c" stroke="#1c1c1c" stroke-width="0.3" textLength="19.7" lengthAdjust="spacingAndGlyphs">0.506</text>
<line x1="394.90" y1="301.50" x2="409.90" y2="301.50" stroke="#363636" stroke-width="1.0"/>
<text x="402.40" y="299.20" font-size="8.05" text-anchor="middle" fill="#1c1c1c" stroke="#1c1c1c" stroke-width="0.3" textLength="17.3" lengthAdjust="spacingAndGlyphs">0.001</text>
<line x1="409.90" y1="312.50" x2="423.90" y2="312.50" stroke="#363636" stroke-width="1.0"/>
<text x="416.90" y="310.20" font-size="8.05" text-anchor="middle" fill="#1c1c1c" stroke="#1c1c1c" stroke-width="0.3" textLength="18.8" lengthAdjust="spacingAndGlyphs">0.006</text>
<text x="363.50" y="322.60" font-size="8.0" text-anchor="middle" fill="#1c1c1c" stroke="#1c1c1c" stroke-width="0.45" textLength="49.5" lengthAdjust="spacingAndGlyphs" transform="rotate(-90 363.50 322.60)">log<tspan font-size="5.6" dy="1.7">2</tspan><tspan dy="-1.7">CPM </tspan><tspan font-style="italic">FOXP3</tspan></text>
<line x1="472.30" y1="292.72" x2="472.30" y2="352.74" stroke="#2e2e2e" stroke-width="1.3"/>
<line x1="471.80" y1="352.74" x2="520.30" y2="352.74" stroke="#2e2e2e" stroke-width="1.3"/>
<line x1="468.90" y1="352.74" x2="472.30" y2="352.74" stroke="#2e2e2e" stroke-width="0.9"/>
<text x="465.70" y="355.44" font-size="8.28" text-anchor="end" fill="#1c1c1c" stroke="#1c1c1c" stroke-width="0.3" textLength="8.21" lengthAdjust="spacingAndGlyphs">−4</text>
<line x1="468.90" y1="345.42" x2="472.30" y2="345.42" stroke="#2e2e2e" stroke-width="0.9"/>
<text x="465.70" y="348.12" font-size="8.28" text-anchor="end" fill="#1c1c1c" stroke="#1c1c1c" stroke-width="0.3" textLength="8.21" lengthAdjust="spacingAndGlyphs">−2</text>
<line x1="468.90" y1="338.10" x2="472.30" y2="338.10" stroke="#2e2e2e" stroke-width="0.9"/>
<text x="465.70" y="340.80" font-size="8.28" text-anchor="end" fill="#1c1c1c" stroke="#1c1c1c" stroke-width="0.3" textLength="4.0" lengthAdjust="spacingAndGlyphs">0</text>
<line x1="468.90" y1="330.78" x2="472.30" y2="330.78" stroke="#2e2e2e" stroke-width="0.9"/>
<text x="465.70" y="333.48" font-size="8.28" text-anchor="end" fill="#1c1c1c" stroke="#1c1c1c" stroke-width="0.3" textLength="4.0" lengthAdjust="spacingAndGlyphs">2</text>
<line x1="468.90" y1="323.46" x2="472.30" y2="323.46" stroke="#2e2e2e" stroke-width="0.9"/>
<text x="465.70" y="326.16" font-size="8.28" text-anchor="end" fill="#1c1c1c" stroke="#1c1c1c" stroke-width="0.3" textLength="4.0" lengthAdjust="spacingAndGlyphs">4</text>
<line x1="468.90" y1="316.14" x2="472.30" y2="316.14" stroke="#2e2e2e" stroke-width="0.9"/>
<text x="465.70" y="318.84" font-size="8.28" text-anchor="end" fill="#1c1c1c" stroke="#1c1c1c" stroke-width="0.3" textLength="4.0" lengthAdjust="spacingAndGlyphs">6</text>
<line x1="468.90" y1="308.82" x2="472.30" y2="308.82" stroke="#2e2e2e" stroke-width="0.9"/>
<text x="465.70" y="311.52" font-size="8.28" text-anchor="end" fill="#1c1c1c" stroke="#1c1c1c" stroke-width="0.3" textLength="4.0" lengthAdjust="spacingAndGlyphs">8</text>
<line x1="468.90" y1="301.50" x2="472.30" y2="301.50" stroke="#2e2e2e" stroke-width="0.9"/>
<text x="465.70" y="304.20" font-size="8.28" text-anchor="end" fill="#1c1c1c" stroke="#1c1c1c" stroke-width="0.3" textLength="8.01" lengthAdjust="spacingAndGlyphs">10</text>
<line x1="468.90" y1="294.18" x2="472.30" y2="294.18" stroke="#2e2e2e" stroke-width="0.9"/>
<text x="465.70" y="296.88" font-size="8.28" text-anchor="end" fill="#1c1c1c" stroke="#1c1c1c" stroke-width="0.3" textLength="8.01" lengthAdjust="spacingAndGlyphs">12</text>
<rect x="476.30" y="337.37" width="10.20" height="0.43" fill="#9d9da7"/>
<rect x="490.60" y="326.39" width="10.20" height="11.41" fill="#8d9cc5"/>
<rect x="505.50" y="320.17" width="10.20" height="17.63" fill="#e8897a"/>
<line x1="472.30" y1="337.80" x2="519.80" y2="337.80" stroke="#2a2a2a" stroke-width="1.25" stroke-dasharray="2.6,1.9"/>
<line x1="481.40" y1="352.74" x2="481.40" y2="355.04" stroke="#2e2e2e" stroke-width="0.9"/>
<line x1="495.70" y1="352.74" x2="495.70" y2="355.04" stroke="#2e2e2e" stroke-width="0.9"/>
<line x1="510.60" y1="352.74" x2="510.60" y2="355.04" stroke="#2e2e2e" stroke-width="0.9"/>
<line x1="481.40" y1="341.39" x2="481.40" y2="332.98" stroke="#1a1a1a" stroke-width="1.0"/>
<line x1="480.60" y1="341.39" x2="482.20" y2="341.39" stroke="#1a1a1a" stroke-width="1.0"/>
<line x1="480.60" y1="332.98" x2="482.20" y2="332.98" stroke="#1a1a1a" stroke-width="1.0"/>
<line x1="495.70" y1="329.68" x2="495.70" y2="323.09" stroke="#1a1a1a" stroke-width="1.0"/>
<line x1="494.90" y1="329.68" x2="496.50" y2="329.68" stroke="#1a1a1a" stroke-width="1.0"/>
<line x1="494.90" y1="323.09" x2="496.50" y2="323.09" stroke="#1a1a1a" stroke-width="1.0"/>
<line x1="510.60" y1="323.09" x2="510.60" y2="317.24" stroke="#1a1a1a" stroke-width="1.0"/>
<line x1="509.80" y1="323.09" x2="511.40" y2="323.09" stroke="#1a1a1a" stroke-width="1.0"/>
<line x1="509.80" y1="317.24" x2="511.40" y2="317.24" stroke="#1a1a1a" stroke-width="1.0"/>
<circle cx="478.20" cy="331.51" r="1.3" fill="#343437" stroke="#000000" stroke-width="1.05"/>
<circle cx="482.70" cy="329.68" r="1.3" fill="#343437" stroke="#000000" stroke-width="1.05"/>
<circle cx="480.00" cy="337.00" r="1.3" fill="#343437" stroke="#000000" stroke-width="1.05"/>
<circle cx="480.50" cy="340.66" r="1.3" fill="#343437" stroke="#000000" stroke-width="1.05"/>
<circle cx="483.70" cy="344.32" r="1.3" fill="#343437" stroke="#000000" stroke-width="1.05"/>
<circle cx="482.40" cy="334.07" r="1.3" fill="#343437" stroke="#000000" stroke-width="1.05"/>
<circle cx="497.30" cy="319.43" r="1.3" fill="#1a2b50" stroke="#050c1c" stroke-width="1.05"/>
<circle cx="498.30" cy="321.63" r="1.3" fill="#1a2b50" stroke="#050c1c" stroke-width="1.05"/>
<circle cx="495.20" cy="323.09" r="1.3" fill="#1a2b50" stroke="#050c1c" stroke-width="1.05"/>
<circle cx="496.40" cy="328.95" r="1.3" fill="#1a2b50" stroke="#050c1c" stroke-width="1.05"/>
<circle cx="498.30" cy="332.61" r="1.3" fill="#1a2b50" stroke="#050c1c" stroke-width="1.05"/>
<circle cx="510.10" cy="314.31" r="1.3" fill="#6e1424" stroke="#33060c" stroke-width="1.05"/>
<circle cx="511.00" cy="317.97" r="1.3" fill="#6e1424" stroke="#33060c" stroke-width="1.05"/>
<circle cx="512.90" cy="320.17" r="1.3" fill="#6e1424" stroke="#33060c" stroke-width="1.05"/>
<circle cx="512.30" cy="325.29" r="1.3" fill="#6e1424" stroke="#33060c" stroke-width="1.05"/>
<text x="486.10" y="361.04" font-size="8.97" text-anchor="end" fill="#1c1c1c" stroke="#1c1c1c" stroke-width="0.3" textLength="21.0" lengthAdjust="spacingAndGlyphs" transform="rotate(-45 486.10 361.04)">UNTR</text>
<text x="500.40" y="361.04" font-size="8.97" text-anchor="end" fill="#1c1c1c" stroke="#1c1c1c" stroke-width="0.3" textLength="25.5" lengthAdjust="spacingAndGlyphs" transform="rotate(-45 500.40 361.04)">FMC63</text>
<text x="515.30" y="361.04" font-size="8.97" text-anchor="end" fill="#1c1c1c" stroke="#1c1c1c" stroke-width="0.3" textLength="14.6" lengthAdjust="spacingAndGlyphs" transform="rotate(-45 515.30 361.04)">CAT</text>
<line x1="480.50" y1="289.10" x2="510.10" y2="289.10" stroke="#363636" stroke-width="1.0"/>
<text x="495.30" y="286.70" font-size="8.05" text-anchor="middle" fill="#1c1c1c" stroke="#1c1c1c" stroke-width="0.3" textLength="28.3" lengthAdjust="spacingAndGlyphs">5.17e<tspan font-size="4.8" dy="-2.6">−08</tspan></text>
<line x1="480.80" y1="301.10" x2="495.80" y2="301.10" stroke="#363636" stroke-width="1.0"/>
<text x="488.30" y="298.90" font-size="8.05" text-anchor="middle" fill="#1c1c1c" stroke="#1c1c1c" stroke-width="0.3" textLength="19.0" lengthAdjust="spacingAndGlyphs">0.006</text>
<line x1="495.80" y1="311.50" x2="510.10" y2="311.50" stroke="#363636" stroke-width="1.0"/>
<text x="502.95" y="309.50" font-size="8.05" text-anchor="middle" fill="#1c1c1c" stroke="#1c1c1c" stroke-width="0.3" textLength="19.1" lengthAdjust="spacingAndGlyphs">0.014</text>
<text x="450.40" y="322.20" font-size="8.0" text-anchor="middle" fill="#1c1c1c" stroke="#1c1c1c" stroke-width="0.45" textLength="51.5" lengthAdjust="spacingAndGlyphs" transform="rotate(-90 450.40 322.20)">log<tspan font-size="5.6" dy="1.7">2</tspan><tspan dy="-1.7">CPM </tspan><tspan font-style="italic">TNFSF4</tspan></text>
<line x1="43.90" y1="411.90" x2="43.90" y2="471.20" stroke="#2e2e2e" stroke-width="1.3"/>
<line x1="43.40" y1="471.20" x2="96.30" y2="471.20" stroke="#2e2e2e" stroke-width="1.3"/>
<line x1="40.90" y1="465.30" x2="43.90" y2="465.30" stroke="#2e2e2e" stroke-width="1.0"/>
<text x="38.60" y="468.10" font-size="8.74" text-anchor="end" fill="#1c1c1c" stroke="#1c1c1c" stroke-width="0.3" textLength="15.8" lengthAdjust="spacingAndGlyphs">0.00</text>
<line x1="40.90" y1="454.82" x2="43.90" y2="454.82" stroke="#2e2e2e" stroke-width="1.0"/>
<text x="38.60" y="457.62" font-size="8.74" text-anchor="end" fill="#1c1c1c" stroke="#1c1c1c" stroke-width="0.3" textLength="15.8" lengthAdjust="spacingAndGlyphs">1.00</text>
<line x1="40.90" y1="444.34" x2="43.90" y2="444.34" stroke="#2e2e2e" stroke-width="1.0"/>
<text x="38.60" y="447.14" font-size="8.74" text-anchor="end" fill="#1c1c1c" stroke="#1c1c1c" stroke-width="0.3" textLength="15.8" lengthAdjust="spacingAndGlyphs">2.00</text>
<line x1="40.90" y1="433.86" x2="43.90" y2="433.86" stroke="#2e2e2e" stroke-width="1.0"/>
<text x="38.60" y="436.66" font-size="8.74" text-anchor="end" fill="#1c1c1c" stroke="#1c1c1c" stroke-width="0.3" textLength="15.8" lengthAdjust="spacingAndGlyphs">3.00</text>
<line x1="40.90" y1="423.38" x2="43.90" y2="423.38" stroke="#2e2e2e" stroke-width="1.0"/>
<text x="38.60" y="426.18" font-size="8.74" text-anchor="end" fill="#1c1c1c" stroke="#1c1c1c" stroke-width="0.3" textLength="15.8" lengthAdjust="spacingAndGlyphs">4.00</text>
<line x1="40.90" y1="412.90" x2="43.90" y2="412.90" stroke="#2e2e2e" stroke-width="1.0"/>
<text x="38.60" y="415.70" font-size="8.74" text-anchor="end" fill="#1c1c1c" stroke="#1c1c1c" stroke-width="0.3" textLength="15.8" lengthAdjust="spacingAndGlyphs">5.00</text>
<rect x="50.10" y="439.62" width="16.50" height="26.28" fill="#8d9cc5"/>
<rect x="73.00" y="429.14" width="16.90" height="36.76" fill="#e8897a"/>
<line x1="43.90" y1="465.90" x2="95.80" y2="465.90" stroke="#2a2a2a" stroke-width="1.3" stroke-dasharray="3.0,2.2"/>
<line x1="58.35" y1="471.20" x2="58.35" y2="473.70" stroke="#2e2e2e" stroke-width="1.0"/>
<line x1="81.45" y1="471.20" x2="81.45" y2="473.70" stroke="#2e2e2e" stroke-width="1.0"/>
<line x1="58.35" y1="444.34" x2="58.35" y2="434.91" stroke="#1a1a1a" stroke-width="1.0"/>
<line x1="57.55" y1="444.34" x2="59.15" y2="444.34" stroke="#1a1a1a" stroke-width="1.0"/>
<line x1="57.55" y1="434.91" x2="59.15" y2="434.91" stroke="#1a1a1a" stroke-width="1.0"/>
<circle cx="57.10" cy="430.80" r="1.75" fill="#1a2b50" stroke="#050c1c" stroke-width="1.05"/>
<circle cx="58.80" cy="437.50" r="1.75" fill="#1a2b50" stroke="#050c1c" stroke-width="1.05"/>
<circle cx="61.30" cy="440.90" r="1.75" fill="#1a2b50" stroke="#050c1c" stroke-width="1.05"/>
<circle cx="59.70" cy="443.50" r="1.75" fill="#1a2b50" stroke="#050c1c" stroke-width="1.05"/>
<circle cx="59.90" cy="448.10" r="1.75" fill="#1a2b50" stroke="#050c1c" stroke-width="1.05"/>
<circle cx="81.40" cy="419.60" r="1.75" fill="#6e1424" stroke="#33060c" stroke-width="1.05"/>
<circle cx="82.90" cy="425.50" r="1.75" fill="#6e1424" stroke="#33060c" stroke-width="1.05"/>
<circle cx="78.70" cy="429.70" r="1.75" fill="#6e1424" stroke="#33060c" stroke-width="1.05"/>
<circle cx="82.50" cy="430.30" r="1.75" fill="#6e1424" stroke="#33060c" stroke-width="1.05"/>
<circle cx="77.20" cy="435.40" r="1.75" fill="#6e1424" stroke="#33060c" stroke-width="1.05"/>
<line x1="59.20" y1="416.50" x2="76.50" y2="416.50" stroke="#3a3a3a" stroke-width="1.1"/>
<text x="67.85" y="416.70" font-size="8.28" text-anchor="middle" fill="#1c1c1c" stroke="#1c1c1c" stroke-width="0.1" textLength="11.21" lengthAdjust="spacingAndGlyphs">****</text>
<text x="61.85" y="480.20" font-size="8.97" text-anchor="end" fill="#1c1c1c" stroke="#1c1c1c" stroke-width="0.3" textLength="26.5" lengthAdjust="spacingAndGlyphs" transform="rotate(-45 61.85 480.20)">FMC63</text>
<text x="84.95" y="480.20" font-size="8.97" text-anchor="end" fill="#1c1c1c" stroke="#1c1c1c" stroke-width="0.3" textLength="15.4" lengthAdjust="spacingAndGlyphs" transform="rotate(-45 84.95 480.20)">CAT</text>
<text x="16.01" y="440.60" font-size="9.2" text-anchor="middle" fill="#1c1c1c" stroke="#1c1c1c" stroke-width="0.42" textLength="32.1" lengthAdjust="spacingAndGlyphs" transform="rotate(-90 16.01 440.60)">EMD CD25</text>
<line x1="146.20" y1="411.50" x2="146.20" y2="471.20" stroke="#2e2e2e" stroke-width="1.3"/>
<line x1="145.70" y1="471.20" x2="199.50" y2="471.20" stroke="#2e2e2e" stroke-width="1.3"/>
<line x1="143.20" y1="462.50" x2="146.20" y2="462.50" stroke="#2e2e2e" stroke-width="1.0"/>
<text x="140.90" y="465.30" font-size="8.74" text-anchor="end" fill="#1c1c1c" stroke="#1c1c1c" stroke-width="0.3" textLength="15.8" lengthAdjust="spacingAndGlyphs">0.00</text>
<line x1="143.20" y1="445.83" x2="146.20" y2="445.83" stroke="#2e2e2e" stroke-width="1.0"/>
<text x="140.90" y="448.63" font-size="8.74" text-anchor="end" fill="#1c1c1c" stroke="#1c1c1c" stroke-width="0.3" textLength="15.8" lengthAdjust="spacingAndGlyphs">1.00</text>
<line x1="143.20" y1="429.17" x2="146.20" y2="429.17" stroke="#2e2e2e" stroke-width="1.0"/>
<text x="140.90" y="431.97" font-size="8.74" text-anchor="end" fill="#1c1c1c" stroke="#1c1c1c" stroke-width="0.3" textLength="15.8" lengthAdjust="spacingAndGlyphs">2.00</text>
<line x1="143.20" y1="412.50" x2="146.20" y2="412.50" stroke="#2e2e2e" stroke-width="1.0"/>
<text x="140.90" y="415.30" font-size="8.74" text-anchor="end" fill="#1c1c1c" stroke="#1c1c1c" stroke-width="0.3" textLength="15.8" lengthAdjust="spacingAndGlyphs">3.00</text>
<rect x="152.50" y="445.00" width="16.30" height="18.10" fill="#8d9cc5"/>
<rect x="176.00" y="434.50" width="16.30" height="28.60" fill="#e8897a"/>
<line x1="146.20" y1="463.10" x2="199.00" y2="463.10" stroke="#2a2a2a" stroke-width="1.3" stroke-dasharray="3.0,2.2"/>
<line x1="160.65" y1="471.20" x2="160.65" y2="473.70" stroke="#2e2e2e" stroke-width="1.0"/>
<line x1="184.15" y1="471.20" x2="184.15" y2="473.70" stroke="#2e2e2e" stroke-width="1.0"/>
<line x1="160.65" y1="449.17" x2="160.65" y2="440.83" stroke="#1a1a1a" stroke-width="1.0"/>
<line x1="159.85" y1="449.17" x2="161.45" y2="449.17" stroke="#1a1a1a" stroke-width="1.0"/>
<line x1="159.85" y1="440.83" x2="161.45" y2="440.83" stroke="#1a1a1a" stroke-width="1.0"/>
<line x1="184.15" y1="439.17" x2="184.15" y2="429.17" stroke="#1a1a1a" stroke-width="1.0"/>
<line x1="183.35" y1="439.17" x2="184.95" y2="439.17" stroke="#1a1a1a" stroke-width="1.0"/>
<line x1="183.35" y1="429.17" x2="184.95" y2="429.17" stroke="#1a1a1a" stroke-width="1.0"/>
<circle cx="159.60" cy="431.20" r="1.75" fill="#1a2b50" stroke="#050c1c" stroke-width="1.05"/>
<circle cx="160.60" cy="436.20" r="1.75" fill="#1a2b50" stroke="#050c1c" stroke-width="1.05"/>
<circle cx="163.50" cy="441.30" r="1.75" fill="#1a2b50" stroke="#050c1c" stroke-width="1.05"/>
<circle cx="161.90" cy="444.60" r="1.75" fill="#1a2b50" stroke="#050c1c" stroke-width="1.05"/>
<circle cx="162.50" cy="450.40" r="1.75" fill="#1a2b50" stroke="#050c1c" stroke-width="1.05"/>
<circle cx="161.90" cy="455.80" r="1.75" fill="#1a2b50" stroke="#050c1c" stroke-width="1.05"/>
<circle cx="184.00" cy="422.10" r="1.75" fill="#6e1424" stroke="#33060c" stroke-width="1.05"/>
<circle cx="180.80" cy="426.90" r="1.75" fill="#6e1424" stroke="#33060c" stroke-width="1.05"/>
<circle cx="185.60" cy="429.20" r="1.75" fill="#6e1424" stroke="#33060c" stroke-width="1.05"/>
<circle cx="179.80" cy="440.80" r="1.75" fill="#6e1424" stroke="#33060c" stroke-width="1.05"/>
<circle cx="184.60" cy="441.30" r="1.75" fill="#6e1424" stroke="#33060c" stroke-width="1.05"/>
<circle cx="180.40" cy="451.00" r="1.75" fill="#6e1424" stroke="#33060c" stroke-width="1.05"/>
<line x1="161.50" y1="419.30" x2="182.70" y2="419.30" stroke="#3a3a3a" stroke-width="1.1"/>
<text x="172.10" y="419.40" font-size="8.28" text-anchor="middle" fill="#1c1c1c" stroke="#1c1c1c" stroke-width="0.1" textLength="5.6" lengthAdjust="spacingAndGlyphs">**</text>
<text x="164.15" y="480.20" font-size="8.97" text-anchor="end" fill="#1c1c1c" stroke="#1c1c1c" stroke-width="0.3" textLength="26.5" lengthAdjust="spacingAndGlyphs" transform="rotate(-45 164.15 480.20)">FMC63</text>
<text x="187.65" y="480.20" font-size="8.97" text-anchor="end" fill="#1c1c1c" stroke="#1c1c1c" stroke-width="0.3" textLength="15.4" lengthAdjust="spacingAndGlyphs" transform="rotate(-45 187.65 480.20)">CAT</text>
<text x="118.91" y="441.00" font-size="9.2" text-anchor="middle" fill="#1c1c1c" stroke="#1c1c1c" stroke-width="0.42" textLength="40.4" lengthAdjust="spacingAndGlyphs" transform="rotate(-90 118.91 441.00)">EMD HLA–DR</text>
<line x1="248.10" y1="411.50" x2="248.10" y2="471.20" stroke="#2e2e2e" stroke-width="1.3"/>
<line x1="247.60" y1="471.20" x2="297.00" y2="471.20" stroke="#2e2e2e" stroke-width="1.3"/>
<line x1="245.10" y1="470.80" x2="248.10" y2="470.80" stroke="#2e2e2e" stroke-width="1.0"/>
<text x="242.80" y="473.60" font-size="8.74" text-anchor="end" fill="#1c1c1c" stroke="#1c1c1c" stroke-width="0.3" textLength="19.8" lengthAdjust="spacingAndGlyphs">−0.50</text>
<line x1="245.10" y1="459.14" x2="248.10" y2="459.14" stroke="#2e2e2e" stroke-width="1.0"/>
<text x="242.80" y="461.94" font-size="8.74" text-anchor="end" fill="#1c1c1c" stroke="#1c1c1c" stroke-width="0.3" textLength="15.8" lengthAdjust="spacingAndGlyphs">0.00</text>
<line x1="245.10" y1="447.48" x2="248.10" y2="447.48" stroke="#2e2e2e" stroke-width="1.0"/>
<text x="242.80" y="450.28" font-size="8.74" text-anchor="end" fill="#1c1c1c" stroke="#1c1c1c" stroke-width="0.3" textLength="15.8" lengthAdjust="spacingAndGlyphs">0.50</text>
<line x1="245.10" y1="435.82" x2="248.10" y2="435.82" stroke="#2e2e2e" stroke-width="1.0"/>
<text x="242.80" y="438.62" font-size="8.74" text-anchor="end" fill="#1c1c1c" stroke="#1c1c1c" stroke-width="0.3" textLength="15.8" lengthAdjust="spacingAndGlyphs">1.00</text>
<line x1="245.10" y1="424.16" x2="248.10" y2="424.16" stroke="#2e2e2e" stroke-width="1.0"/>
<text x="242.80" y="426.96" font-size="8.74" text-anchor="end" fill="#1c1c1c" stroke="#1c1c1c" stroke-width="0.3" textLength="15.8" lengthAdjust="spacingAndGlyphs">1.50</text>
<line x1="245.10" y1="412.50" x2="248.10" y2="412.50" stroke="#2e2e2e" stroke-width="1.0"/>
<text x="242.80" y="415.30" font-size="8.74" text-anchor="end" fill="#1c1c1c" stroke="#1c1c1c" stroke-width="0.3" textLength="15.8" lengthAdjust="spacingAndGlyphs">2.00</text>
<rect x="254.40" y="450.28" width="14.80" height="9.46" fill="#8d9cc5"/>
<rect x="276.00" y="440.02" width="14.80" height="19.72" fill="#e8897a"/>
<line x1="248.10" y1="459.74" x2="296.50" y2="459.74" stroke="#2a2a2a" stroke-width="1.3" stroke-dasharray="3.0,2.2"/>
<line x1="261.80" y1="471.20" x2="261.80" y2="473.70" stroke="#2e2e2e" stroke-width="1.0"/>
<line x1="283.40" y1="471.20" x2="283.40" y2="473.70" stroke="#2e2e2e" stroke-width="1.0"/>
<line x1="261.80" y1="454.48" x2="261.80" y2="446.31" stroke="#1a1a1a" stroke-width="1.0"/>
<line x1="261.00" y1="454.48" x2="262.60" y2="454.48" stroke="#1a1a1a" stroke-width="1.0"/>
<line x1="261.00" y1="446.31" x2="262.60" y2="446.31" stroke="#1a1a1a" stroke-width="1.0"/>
<line x1="283.40" y1="446.31" x2="283.40" y2="433.49" stroke="#1a1a1a" stroke-width="1.0"/>
<line x1="282.60" y1="446.31" x2="284.20" y2="446.31" stroke="#1a1a1a" stroke-width="1.0"/>
<line x1="282.60" y1="433.49" x2="284.20" y2="433.49" stroke="#1a1a1a" stroke-width="1.0"/>
<circle cx="264.40" cy="428.80" r="1.75" fill="#1a2b50" stroke="#050c1c" stroke-width="1.05"/>
<circle cx="260.60" cy="441.30" r="1.75" fill="#1a2b50" stroke="#050c1c" stroke-width="1.05"/>
<circle cx="263.10" cy="449.00" r="1.75" fill="#1a2b50" stroke="#050c1c" stroke-width="1.05"/>
<circle cx="261.20" cy="451.00" r="1.75" fill="#1a2b50" stroke="#050c1c" stroke-width="1.05"/>
<circle cx="265.00" cy="453.80" r="1.75" fill="#1a2b50" stroke="#050c1c" stroke-width="1.05"/>
<circle cx="263.50" cy="462.50" r="1.75" fill="#1a2b50" stroke="#050c1c" stroke-width="1.05"/>
<circle cx="262.50" cy="464.40" r="1.75" fill="#1a2b50" stroke="#050c1c" stroke-width="1.05"/>
<circle cx="280.40" cy="415.00" r="1.75" fill="#6e1424" stroke="#33060c" stroke-width="1.05"/>
<circle cx="284.60" cy="431.70" r="1.75" fill="#6e1424" stroke="#33060c" stroke-width="1.05"/>
<circle cx="283.10" cy="434.60" r="1.75" fill="#6e1424" stroke="#33060c" stroke-width="1.05"/>
<circle cx="283.70" cy="440.40" r="1.75" fill="#6e1424" stroke="#33060c" stroke-width="1.05"/>
<circle cx="279.20" cy="445.20" r="1.75" fill="#6e1424" stroke="#33060c" stroke-width="1.05"/>
<circle cx="279.80" cy="454.80" r="1.75" fill="#6e1424" stroke="#33060c" stroke-width="1.05"/>
<circle cx="284.60" cy="454.80" r="1.75" fill="#6e1424" stroke="#33060c" stroke-width="1.05"/>
<line x1="261.20" y1="412.40" x2="282.70" y2="412.40" stroke="#3a3a3a" stroke-width="1.1"/>
<text x="271.95" y="412.40" font-size="8.28" text-anchor="middle" fill="#1c1c1c" stroke="#1c1c1c" stroke-width="0.1" textLength="5.6" lengthAdjust="spacingAndGlyphs">**</text>
<text x="265.30" y="480.20" font-size="8.97" text-anchor="end" fill="#1c1c1c" stroke="#1c1c1c" stroke-width="0.3" textLength="26.5" lengthAdjust="spacingAndGlyphs" transform="rotate(-45 265.30 480.20)">FMC63</text>
<text x="286.90" y="480.20" font-size="8.97" text-anchor="end" fill="#1c1c1c" stroke="#1c1c1c" stroke-width="0.3" textLength="15.4" lengthAdjust="spacingAndGlyphs" transform="rotate(-45 286.90 480.20)">CAT</text>
<text x="216.31" y="441.30" font-size="9.2" text-anchor="middle" fill="#1c1c1c" stroke="#1c1c1c" stroke-width="0.42" textLength="34.4" lengthAdjust="spacingAndGlyphs" transform="rotate(-90 216.31 441.30)">EMD NFAT1</text>
<line x1="346.20" y1="411.50" x2="346.20" y2="471.20" stroke="#2e2e2e" stroke-width="1.3"/>
<line x1="345.70" y1="471.20" x2="395.00" y2="471.20" stroke="#2e2e2e" stroke-width="1.3"/>
<line x1="343.20" y1="470.80" x2="346.20" y2="470.80" stroke="#2e2e2e" stroke-width="1.0"/>
<text x="340.90" y="473.60" font-size="8.74" text-anchor="end" fill="#1c1c1c" stroke="#1c1c1c" stroke-width="0.3" textLength="19.8" lengthAdjust="spacingAndGlyphs">−0.50</text>
<line x1="343.20" y1="459.14" x2="346.20" y2="459.14" stroke="#2e2e2e" stroke-width="1.0"/>
<text x="340.90" y="461.94" font-size="8.74" text-anchor="end" fill="#1c1c1c" stroke="#1c1c1c" stroke-width="0.3" textLength="15.8" lengthAdjust="spacingAndGlyphs">0.00</text>
<line x1="343.20" y1="447.48" x2="346.20" y2="447.48" stroke="#2e2e2e" stroke-width="1.0"/>
<text x="340.90" y="450.28" font-size="8.74" text-anchor="end" fill="#1c1c1c" stroke="#1c1c1c" stroke-width="0.3" textLength="15.8" lengthAdjust="spacingAndGlyphs">0.50</text>
<line x1="343.20" y1="435.82" x2="346.20" y2="435.82" stroke="#2e2e2e" stroke-width="1.0"/>
<text x="340.90" y="438.62" font-size="8.74" text-anchor="end" fill="#1c1c1c" stroke="#1c1c1c" stroke-width="0.3" textLength="15.8" lengthAdjust="spacingAndGlyphs">1.00</text>
<line x1="343.20" y1="424.16" x2="346.20" y2="424.16" stroke="#2e2e2e" stroke-width="1.0"/>
<text x="340.90" y="426.96" font-size="8.74" text-anchor="end" fill="#1c1c1c" stroke="#1c1c1c" stroke-width="0.3" textLength="15.8" lengthAdjust="spacingAndGlyphs">1.50</text>
<line x1="343.20" y1="412.50" x2="346.20" y2="412.50" stroke="#2e2e2e" stroke-width="1.0"/>
<text x="340.90" y="415.30" font-size="8.74" text-anchor="end" fill="#1c1c1c" stroke="#1c1c1c" stroke-width="0.3" textLength="15.8" lengthAdjust="spacingAndGlyphs">2.00</text>
<rect x="351.90" y="442.82" width="15.40" height="16.92" fill="#8d9cc5"/>
<rect x="374.00" y="435.82" width="14.80" height="23.92" fill="#e8897a"/>
<line x1="346.20" y1="459.74" x2="394.50" y2="459.74" stroke="#2a2a2a" stroke-width="1.3" stroke-dasharray="3.0,2.2"/>
<line x1="359.60" y1="471.20" x2="359.60" y2="473.70" stroke="#2e2e2e" stroke-width="1.0"/>
<line x1="381.40" y1="471.20" x2="381.40" y2="473.70" stroke="#2e2e2e" stroke-width="1.0"/>
<line x1="359.60" y1="447.48" x2="359.60" y2="438.15" stroke="#1a1a1a" stroke-width="1.0"/>
<line x1="358.80" y1="447.48" x2="360.40" y2="447.48" stroke="#1a1a1a" stroke-width="1.0"/>
<line x1="358.80" y1="438.15" x2="360.40" y2="438.15" stroke="#1a1a1a" stroke-width="1.0"/>
<line x1="381.40" y1="440.48" x2="381.40" y2="431.16" stroke="#1a1a1a" stroke-width="1.0"/>
<line x1="380.60" y1="440.48" x2="382.20" y2="440.48" stroke="#1a1a1a" stroke-width="1.0"/>
<line x1="380.60" y1="431.16" x2="382.20" y2="431.16" stroke="#1a1a1a" stroke-width="1.0"/>
<circle cx="361.90" cy="427.90" r="1.75" fill="#1a2b50" stroke="#050c1c" stroke-width="1.05"/>
<circle cx="358.70" cy="435.00" r="1.75" fill="#1a2b50" stroke="#050c1c" stroke-width="1.05"/>
<circle cx="359.60" cy="439.80" r="1.75" fill="#1a2b50" stroke="#050c1c" stroke-width="1.05"/>
<circle cx="361.20" cy="443.30" r="1.75" fill="#1a2b50" stroke="#050c1c" stroke-width="1.05"/>
<circle cx="361.90" cy="449.00" r="1.75" fill="#1a2b50" stroke="#050c1c" stroke-width="1.05"/>
<circle cx="360.60" cy="451.90" r="1.75" fill="#1a2b50" stroke="#050c1c" stroke-width="1.05"/>
<circle cx="377.90" cy="418.70" r="1.75" fill="#6e1424" stroke="#33060c" stroke-width="1.05"/>
<circle cx="381.20" cy="430.40" r="1.75" fill="#6e1424" stroke="#33060c" stroke-width="1.05"/>
<circle cx="376.90" cy="435.60" r="1.75" fill="#6e1424" stroke="#33060c" stroke-width="1.05"/>
<circle cx="382.30" cy="444.60" r="1.75" fill="#6e1424" stroke="#33060c" stroke-width="1.05"/>
<circle cx="377.30" cy="449.60" r="1.75" fill="#6e1424" stroke="#33060c" stroke-width="1.05"/>
<circle cx="382.00" cy="436.50" r="1.75" fill="#6e1424" stroke="#33060c" stroke-width="1.05"/>
<line x1="360.00" y1="416.30" x2="381.70" y2="416.30" stroke="#3a3a3a" stroke-width="1.1"/>
<text x="370.85" y="416.30" font-size="8.28" text-anchor="middle" fill="#1c1c1c" stroke="#1c1c1c" stroke-width="0.1" textLength="5.6" lengthAdjust="spacingAndGlyphs">**</text>
<text x="363.10" y="480.20" font-size="8.97" text-anchor="end" fill="#1c1c1c" stroke="#1c1c1c" stroke-width="0.3" textLength="26.5" lengthAdjust="spacingAndGlyphs" transform="rotate(-45 363.10 480.20)">FMC63</text>
<text x="384.90" y="480.20" font-size="8.97" text-anchor="end" fill="#1c1c1c" stroke="#1c1c1c" stroke-width="0.3" textLength="15.4" lengthAdjust="spacingAndGlyphs" transform="rotate(-45 384.90 480.20)">CAT</text>
<text x="313.81" y="440.60" font-size="9.2" text-anchor="middle" fill="#1c1c1c" stroke="#1c1c1c" stroke-width="0.42" textLength="35.8" lengthAdjust="spacingAndGlyphs" transform="rotate(-90 313.81 440.60)">EMD FOXP3</text>
<line x1="448.90" y1="411.00" x2="448.90" y2="470.90" stroke="#2e2e2e" stroke-width="1.3"/>
<line x1="448.40" y1="470.90" x2="495.80" y2="470.90" stroke="#2e2e2e" stroke-width="1.3"/>
<line x1="445.90" y1="470.90" x2="448.90" y2="470.90" stroke="#2e2e2e" stroke-width="1.0"/>
<text x="443.60" y="473.70" font-size="8.74" text-anchor="end" fill="#1c1c1c" stroke="#1c1c1c" stroke-width="0.3" textLength="19.8" lengthAdjust="spacingAndGlyphs">−0.50</text>
<line x1="445.90" y1="456.17" x2="448.90" y2="456.17" stroke="#2e2e2e" stroke-width="1.0"/>
<text x="443.60" y="458.97" font-size="8.74" text-anchor="end" fill="#1c1c1c" stroke="#1c1c1c" stroke-width="0.3" textLength="19.8" lengthAdjust="spacingAndGlyphs">−0.25</text>
<line x1="445.90" y1="441.45" x2="448.90" y2="441.45" stroke="#2e2e2e" stroke-width="1.0"/>
<text x="443.60" y="444.25" font-size="8.74" text-anchor="end" fill="#1c1c1c" stroke="#1c1c1c" stroke-width="0.3" textLength="15.8" lengthAdjust="spacingAndGlyphs">0.00</text>
<line x1="445.90" y1="426.73" x2="448.90" y2="426.73" stroke="#2e2e2e" stroke-width="1.0"/>
<text x="443.60" y="429.53" font-size="8.74" text-anchor="end" fill="#1c1c1c" stroke="#1c1c1c" stroke-width="0.3" textLength="15.8" lengthAdjust="spacingAndGlyphs">0.25</text>
<line x1="445.90" y1="412.00" x2="448.90" y2="412.00" stroke="#2e2e2e" stroke-width="1.0"/>
<text x="443.60" y="414.80" font-size="8.74" text-anchor="end" fill="#1c1c1c" stroke="#1c1c1c" stroke-width="0.3" textLength="15.8" lengthAdjust="spacingAndGlyphs">0.50</text>
<rect x="454.20" y="436.74" width="14.30" height="5.31" fill="#8d9cc5"/>
<rect x="476.20" y="430.26" width="14.50" height="11.79" fill="#e8897a"/>
<line x1="448.90" y1="442.05" x2="495.30" y2="442.05" stroke="#2a2a2a" stroke-width="1.3" stroke-dasharray="3.0,2.2"/>
<line x1="461.35" y1="470.90" x2="461.35" y2="473.40" stroke="#2e2e2e" stroke-width="1.0"/>
<line x1="483.45" y1="470.90" x2="483.45" y2="473.40" stroke="#2e2e2e" stroke-width="1.0"/>
<line x1="483.45" y1="433.20" x2="483.45" y2="427.31" stroke="#1a1a1a" stroke-width="1.0"/>
<line x1="482.65" y1="433.20" x2="484.25" y2="433.20" stroke="#1a1a1a" stroke-width="1.0"/>
<line x1="482.65" y1="427.31" x2="484.25" y2="427.31" stroke="#1a1a1a" stroke-width="1.0"/>
<circle cx="465.10" cy="433.50" r="1.75" fill="#1a2b50" stroke="#050c1c" stroke-width="1.05"/>
<circle cx="461.90" cy="435.80" r="1.75" fill="#1a2b50" stroke="#050c1c" stroke-width="1.05"/>
<circle cx="463.50" cy="434.50" r="1.75" fill="#1a2b50" stroke="#050c1c" stroke-width="1.05"/>
<circle cx="479.60" cy="424.20" r="1.75" fill="#6e1424" stroke="#33060c" stroke-width="1.05"/>
<circle cx="484.90" cy="429.50" r="1.75" fill="#6e1424" stroke="#33060c" stroke-width="1.05"/>
<circle cx="481.90" cy="433.50" r="1.75" fill="#6e1424" stroke="#33060c" stroke-width="1.05"/>
<circle cx="479.60" cy="436.90" r="1.75" fill="#6e1424" stroke="#33060c" stroke-width="1.05"/>
<line x1="462.30" y1="422.00" x2="483.10" y2="422.00" stroke="#3a3a3a" stroke-width="1.1"/>
<text x="472.70" y="422.10" font-size="8.28" text-anchor="middle" fill="#1c1c1c" stroke="#1c1c1c" stroke-width="0.1" textLength="5.6" lengthAdjust="spacingAndGlyphs">**</text>
<text x="464.85" y="479.90" font-size="8.97" text-anchor="end" fill="#1c1c1c" stroke="#1c1c1c" stroke-width="0.3" textLength="26.5" lengthAdjust="spacingAndGlyphs" transform="rotate(-45 464.85 479.90)">FMC63</text>
<text x="486.95" y="479.90" font-size="8.97" text-anchor="end" fill="#1c1c1c" stroke="#1c1c1c" stroke-width="0.3" textLength="15.4" lengthAdjust="spacingAndGlyphs" transform="rotate(-45 486.95 479.90)">CAT</text>
<text x="415.65" y="440.80" font-size="9.2" text-anchor="middle" fill="#1c1c1c" stroke="#1c1c1c" stroke-width="0.42" textLength="38.9" lengthAdjust="spacingAndGlyphs" transform="rotate(-90 415.65 440.80)">EMD pZAP70</text>
<line x1="44.00" y1="512.30" x2="44.00" y2="572.10" stroke="#2e2e2e" stroke-width="1.3"/>
<line x1="43.50" y1="572.10" x2="91.50" y2="572.10" stroke="#2e2e2e" stroke-width="1.3"/>
<line x1="41.00" y1="572.10" x2="44.00" y2="572.10" stroke="#2e2e2e" stroke-width="1.0"/>
<text x="38.70" y="574.90" font-size="8.74" text-anchor="end" fill="#1c1c1c" stroke="#1c1c1c" stroke-width="0.3" textLength="19.8" lengthAdjust="spacingAndGlyphs">−0.50</text>
<line x1="41.00" y1="552.50" x2="44.00" y2="552.50" stroke="#2e2e2e" stroke-width="1.0"/>
<text x="38.70" y="555.30" font-size="8.74" text-anchor="end" fill="#1c1c1c" stroke="#1c1c1c" stroke-width="0.3" textLength="15.8" lengthAdjust="spacingAndGlyphs">0.00</text>
<line x1="41.00" y1="532.90" x2="44.00" y2="532.90" stroke="#2e2e2e" stroke-width="1.0"/>
<text x="38.70" y="535.70" font-size="8.74" text-anchor="end" fill="#1c1c1c" stroke="#1c1c1c" stroke-width="0.3" textLength="15.8" lengthAdjust="spacingAndGlyphs">0.50</text>
<line x1="41.00" y1="513.30" x2="44.00" y2="513.30" stroke="#2e2e2e" stroke-width="1.0"/>
<text x="38.70" y="516.10" font-size="8.74" text-anchor="end" fill="#1c1c1c" stroke="#1c1c1c" stroke-width="0.3" textLength="15.8" lengthAdjust="spacingAndGlyphs">1.00</text>
<rect x="49.70" y="546.62" width="14.80" height="6.48" fill="#8d9cc5"/>
<rect x="71.30" y="536.04" width="14.80" height="17.06" fill="#e8897a"/>
<line x1="44.00" y1="553.10" x2="91.00" y2="553.10" stroke="#2a2a2a" stroke-width="1.3" stroke-dasharray="3.0,2.2"/>
<line x1="57.10" y1="572.10" x2="57.10" y2="574.60" stroke="#2e2e2e" stroke-width="1.0"/>
<line x1="78.70" y1="572.10" x2="78.70" y2="574.60" stroke="#2e2e2e" stroke-width="1.0"/>
<line x1="78.70" y1="540.74" x2="78.70" y2="530.94" stroke="#1a1a1a" stroke-width="1.0"/>
<line x1="77.90" y1="540.74" x2="79.50" y2="540.74" stroke="#1a1a1a" stroke-width="1.0"/>
<line x1="77.90" y1="530.94" x2="79.50" y2="530.94" stroke="#1a1a1a" stroke-width="1.0"/>
<circle cx="59.70" cy="542.90" r="1.75" fill="#1a2b50" stroke="#050c1c" stroke-width="1.05"/>
<circle cx="57.10" cy="545.40" r="1.75" fill="#1a2b50" stroke="#050c1c" stroke-width="1.05"/>
<circle cx="55.40" cy="547.50" r="1.75" fill="#1a2b50" stroke="#050c1c" stroke-width="1.05"/>
<circle cx="58.50" cy="546.50" r="1.75" fill="#1a2b50" stroke="#050c1c" stroke-width="1.05"/>
<circle cx="74.50" cy="516.40" r="1.75" fill="#6e1424" stroke="#33060c" stroke-width="1.05"/>
<circle cx="79.30" cy="526.40" r="1.75" fill="#6e1424" stroke="#33060c" stroke-width="1.05"/>
<circle cx="74.50" cy="532.30" r="1.75" fill="#6e1424" stroke="#33060c" stroke-width="1.05"/>
<circle cx="78.70" cy="541.80" r="1.75" fill="#6e1424" stroke="#33060c" stroke-width="1.05"/>
<circle cx="75.70" cy="545.40" r="1.75" fill="#6e1424" stroke="#33060c" stroke-width="1.05"/>
<circle cx="78.00" cy="544.50" r="1.75" fill="#6e1424" stroke="#33060c" stroke-width="1.05"/>
<line x1="56.70" y1="514.20" x2="78.70" y2="514.20" stroke="#3a3a3a" stroke-width="1.1"/>
<text x="67.70" y="514.10" font-size="8.28" text-anchor="middle" fill="#1c1c1c" stroke="#1c1c1c" stroke-width="0.1" textLength="2.8" lengthAdjust="spacingAndGlyphs">*</text>
<text x="60.60" y="581.10" font-size="8.97" text-anchor="end" fill="#1c1c1c" stroke="#1c1c1c" stroke-width="0.3" textLength="26.5" lengthAdjust="spacingAndGlyphs" transform="rotate(-45 60.60 581.10)">FMC63</text>
<text x="82.20" y="581.10" font-size="8.97" text-anchor="end" fill="#1c1c1c" stroke="#1c1c1c" stroke-width="0.3" textLength="15.4" lengthAdjust="spacingAndGlyphs" transform="rotate(-45 82.20 581.10)">CAT</text>
<text x="10.15" y="542.20" font-size="9.2" text-anchor="middle" fill="#1c1c1c" stroke="#1c1c1c" stroke-width="0.42" textLength="27.1" lengthAdjust="spacingAndGlyphs" transform="rotate(-90 10.15 542.20)">EMD pS6</text>
<line x1="145.00" y1="512.30" x2="145.00" y2="572.10" stroke="#2e2e2e" stroke-width="1.3"/>
<line x1="144.50" y1="572.10" x2="193.50" y2="572.10" stroke="#2e2e2e" stroke-width="1.3"/>
<line x1="142.00" y1="572.10" x2="145.00" y2="572.10" stroke="#2e2e2e" stroke-width="1.0"/>
<text x="139.70" y="574.90" font-size="8.74" text-anchor="end" fill="#1c1c1c" stroke="#1c1c1c" stroke-width="0.3" textLength="19.8" lengthAdjust="spacingAndGlyphs">−0.50</text>
<line x1="142.00" y1="560.34" x2="145.00" y2="560.34" stroke="#2e2e2e" stroke-width="1.0"/>
<text x="139.70" y="563.14" font-size="8.74" text-anchor="end" fill="#1c1c1c" stroke="#1c1c1c" stroke-width="0.3" textLength="15.8" lengthAdjust="spacingAndGlyphs">0.00</text>
<line x1="142.00" y1="548.58" x2="145.00" y2="548.58" stroke="#2e2e2e" stroke-width="1.0"/>
<text x="139.70" y="551.38" font-size="8.74" text-anchor="end" fill="#1c1c1c" stroke="#1c1c1c" stroke-width="0.3" textLength="15.8" lengthAdjust="spacingAndGlyphs">0.50</text>
<line x1="142.00" y1="536.82" x2="145.00" y2="536.82" stroke="#2e2e2e" stroke-width="1.0"/>
<text x="139.70" y="539.62" font-size="8.74" text-anchor="end" fill="#1c1c1c" stroke="#1c1c1c" stroke-width="0.3" textLength="15.8" lengthAdjust="spacingAndGlyphs">1.00</text>
<line x1="142.00" y1="525.06" x2="145.00" y2="525.06" stroke="#2e2e2e" stroke-width="1.0"/>
<text x="139.70" y="527.86" font-size="8.74" text-anchor="end" fill="#1c1c1c" stroke="#1c1c1c" stroke-width="0.3" textLength="15.8" lengthAdjust="spacingAndGlyphs">1.50</text>
<line x1="142.00" y1="513.30" x2="145.00" y2="513.30" stroke="#2e2e2e" stroke-width="1.0"/>
<text x="139.70" y="516.10" font-size="8.74" text-anchor="end" fill="#1c1c1c" stroke="#1c1c1c" stroke-width="0.3" textLength="15.8" lengthAdjust="spacingAndGlyphs">2.00</text>
<rect x="151.80" y="553.99" width="15.50" height="6.95" fill="#8d9cc5"/>
<rect x="173.40" y="547.40" width="15.00" height="13.54" fill="#e8897a"/>
<line x1="145.00" y1="560.94" x2="193.00" y2="560.94" stroke="#2a2a2a" stroke-width="1.3" stroke-dasharray="3.0,2.2"/>
<line x1="159.55" y1="572.10" x2="159.55" y2="574.60" stroke="#2e2e2e" stroke-width="1.0"/>
<line x1="180.90" y1="572.10" x2="180.90" y2="574.60" stroke="#2e2e2e" stroke-width="1.0"/>
<line x1="180.90" y1="549.76" x2="180.90" y2="545.05" stroke="#1a1a1a" stroke-width="1.0"/>
<line x1="180.10" y1="549.76" x2="181.70" y2="549.76" stroke="#1a1a1a" stroke-width="1.0"/>
<line x1="180.10" y1="545.05" x2="181.70" y2="545.05" stroke="#1a1a1a" stroke-width="1.0"/>
<circle cx="161.80" cy="544.60" r="1.75" fill="#1a2b50" stroke="#050c1c" stroke-width="1.05"/>
<circle cx="158.20" cy="551.30" r="1.75" fill="#1a2b50" stroke="#050c1c" stroke-width="1.05"/>
<circle cx="159.20" cy="554.50" r="1.75" fill="#1a2b50" stroke="#050c1c" stroke-width="1.05"/>
<circle cx="160.30" cy="558.80" r="1.75" fill="#1a2b50" stroke="#050c1c" stroke-width="1.05"/>
<circle cx="162.50" cy="556.00" r="1.75" fill="#1a2b50" stroke="#050c1c" stroke-width="1.05"/>
<circle cx="177.80" cy="537.00" r="1.75" fill="#6e1424" stroke="#33060c" stroke-width="1.05"/>
<circle cx="180.80" cy="541.80" r="1.75" fill="#6e1424" stroke="#33060c" stroke-width="1.05"/>
<circle cx="176.60" cy="546.70" r="1.75" fill="#6e1424" stroke="#33060c" stroke-width="1.05"/>
<circle cx="181.40" cy="550.30" r="1.75" fill="#6e1424" stroke="#33060c" stroke-width="1.05"/>
<circle cx="177.20" cy="557.70" r="1.75" fill="#6e1424" stroke="#33060c" stroke-width="1.05"/>
<circle cx="181.40" cy="554.50" r="1.75" fill="#6e1424" stroke="#33060c" stroke-width="1.05"/>
<line x1="159.20" y1="534.90" x2="180.40" y2="534.90" stroke="#3a3a3a" stroke-width="1.1"/>
<text x="169.80" y="534.80" font-size="8.28" text-anchor="middle" fill="#1c1c1c" stroke="#1c1c1c" stroke-width="0.1" textLength="5.6" lengthAdjust="spacingAndGlyphs">**</text>
<text x="163.05" y="581.10" font-size="8.97" text-anchor="end" fill="#1c1c1c" stroke="#1c1c1c" stroke-width="0.3" textLength="26.5" lengthAdjust="spacingAndGlyphs" transform="rotate(-45 163.05 581.10)">FMC63</text>
<text x="184.40" y="581.10" font-size="8.97" text-anchor="end" fill="#1c1c1c" stroke="#1c1c1c" stroke-width="0.3" textLength="15.4" lengthAdjust="spacingAndGlyphs" transform="rotate(-45 184.40 581.10)">CAT</text>
<text x="112.65" y="541.70" font-size="9.2" text-anchor="middle" fill="#1c1c1c" stroke="#1c1c1c" stroke-width="0.42" textLength="30.8" lengthAdjust="spacingAndGlyphs" transform="rotate(-90 112.65 541.70)">EMD pp38</text>
<line x1="248.00" y1="512.30" x2="248.00" y2="572.10" stroke="#2e2e2e" stroke-width="1.3"/>
<line x1="247.50" y1="572.10" x2="296.50" y2="572.10" stroke="#2e2e2e" stroke-width="1.3"/>
<line x1="245.00" y1="572.10" x2="248.00" y2="572.10" stroke="#2e2e2e" stroke-width="1.0"/>
<text x="242.70" y="574.90" font-size="8.74" text-anchor="end" fill="#1c1c1c" stroke="#1c1c1c" stroke-width="0.3" textLength="19.8" lengthAdjust="spacingAndGlyphs">−0.50</text>
<line x1="245.00" y1="560.34" x2="248.00" y2="560.34" stroke="#2e2e2e" stroke-width="1.0"/>
<text x="242.70" y="563.14" font-size="8.74" text-anchor="end" fill="#1c1c1c" stroke="#1c1c1c" stroke-width="0.3" textLength="15.8" lengthAdjust="spacingAndGlyphs">0.00</text>
<line x1="245.00" y1="548.58" x2="248.00" y2="548.58" stroke="#2e2e2e" stroke-width="1.0"/>
<text x="242.70" y="551.38" font-size="8.74" text-anchor="end" fill="#1c1c1c" stroke="#1c1c1c" stroke-width="0.3" textLength="15.8" lengthAdjust="spacingAndGlyphs">0.50</text>
<line x1="245.00" y1="536.82" x2="248.00" y2="536.82" stroke="#2e2e2e" stroke-width="1.0"/>
<text x="242.70" y="539.62" font-size="8.74" text-anchor="end" fill="#1c1c1c" stroke="#1c1c1c" stroke-width="0.3" textLength="15.8" lengthAdjust="spacingAndGlyphs">1.00</text>
<line x1="245.00" y1="525.06" x2="248.00" y2="525.06" stroke="#2e2e2e" stroke-width="1.0"/>
<text x="242.70" y="527.86" font-size="8.74" text-anchor="end" fill="#1c1c1c" stroke="#1c1c1c" stroke-width="0.3" textLength="15.8" lengthAdjust="spacingAndGlyphs">1.50</text>
<line x1="245.00" y1="513.30" x2="248.00" y2="513.30" stroke="#2e2e2e" stroke-width="1.0"/>
<text x="242.70" y="516.10" font-size="8.74" text-anchor="end" fill="#1c1c1c" stroke="#1c1c1c" stroke-width="0.3" textLength="15.8" lengthAdjust="spacingAndGlyphs">2.00</text>
<rect x="254.60" y="548.82" width="15.20" height="12.12" fill="#8d9cc5"/>
<rect x="275.70" y="540.11" width="15.30" height="20.83" fill="#e8897a"/>
<line x1="248.00" y1="560.94" x2="296.00" y2="560.94" stroke="#2a2a2a" stroke-width="1.3" stroke-dasharray="3.0,2.2"/>
<line x1="262.20" y1="572.10" x2="262.20" y2="574.60" stroke="#2e2e2e" stroke-width="1.0"/>
<line x1="283.35" y1="572.10" x2="283.35" y2="574.60" stroke="#2e2e2e" stroke-width="1.0"/>
<line x1="262.20" y1="552.11" x2="262.20" y2="545.05" stroke="#1a1a1a" stroke-width="1.0"/>
<line x1="261.40" y1="552.11" x2="263.00" y2="552.11" stroke="#1a1a1a" stroke-width="1.0"/>
<line x1="261.40" y1="545.05" x2="263.00" y2="545.05" stroke="#1a1a1a" stroke-width="1.0"/>
<line x1="283.35" y1="543.88" x2="283.35" y2="536.82" stroke="#1a1a1a" stroke-width="1.0"/>
<line x1="282.55" y1="543.88" x2="284.15" y2="543.88" stroke="#1a1a1a" stroke-width="1.0"/>
<line x1="282.55" y1="536.82" x2="284.15" y2="536.82" stroke="#1a1a1a" stroke-width="1.0"/>
<circle cx="263.90" cy="536.10" r="1.75" fill="#1a2b50" stroke="#050c1c" stroke-width="1.05"/>
<circle cx="260.30" cy="539.70" r="1.75" fill="#1a2b50" stroke="#050c1c" stroke-width="1.05"/>
<circle cx="262.40" cy="549.70" r="1.75" fill="#1a2b50" stroke="#050c1c" stroke-width="1.05"/>
<circle cx="261.30" cy="553.50" r="1.75" fill="#1a2b50" stroke="#050c1c" stroke-width="1.05"/>
<circle cx="263.50" cy="556.00" r="1.75" fill="#1a2b50" stroke="#050c1c" stroke-width="1.05"/>
<circle cx="280.00" cy="529.10" r="1.75" fill="#6e1424" stroke="#33060c" stroke-width="1.05"/>
<circle cx="283.60" cy="533.40" r="1.75" fill="#6e1424" stroke="#33060c" stroke-width="1.05"/>
<circle cx="279.30" cy="539.70" r="1.75" fill="#6e1424" stroke="#33060c" stroke-width="1.05"/>
<circle cx="284.60" cy="540.80" r="1.75" fill="#6e1424" stroke="#33060c" stroke-width="1.05"/>
<circle cx="280.00" cy="547.10" r="1.75" fill="#6e1424" stroke="#33060c" stroke-width="1.05"/>
<circle cx="284.20" cy="550.70" r="1.75" fill="#6e1424" stroke="#33060c" stroke-width="1.05"/>
<line x1="261.80" y1="527.10" x2="284.20" y2="527.10" stroke="#3a3a3a" stroke-width="1.1"/>
<text x="273.00" y="527.10" font-size="8.28" text-anchor="middle" fill="#1c1c1c" stroke="#1c1c1c" stroke-width="0.1" textLength="5.6" lengthAdjust="spacingAndGlyphs">**</text>
<text x="265.70" y="581.10" font-size="8.97" text-anchor="end" fill="#1c1c1c" stroke="#1c1c1c" stroke-width="0.3" textLength="26.5" lengthAdjust="spacingAndGlyphs" transform="rotate(-45 265.70 581.10)">FMC63</text>
<text x="286.85" y="581.10" font-size="8.97" text-anchor="end" fill="#1c1c1c" stroke="#1c1c1c" stroke-width="0.3" textLength="15.4" lengthAdjust="spacingAndGlyphs" transform="rotate(-45 286.85 581.10)">CAT</text>
<text x="214.95" y="542.00" font-size="9.2" text-anchor="middle" fill="#1c1c1c" stroke="#1c1c1c" stroke-width="0.42" textLength="36.6" lengthAdjust="spacingAndGlyphs" transform="rotate(-90 214.95 542.00)">EMD pCREB</text>
<line x1="346.10" y1="512.70" x2="346.10" y2="572.10" stroke="#2e2e2e" stroke-width="1.3"/>
<line x1="345.60" y1="572.10" x2="399.00" y2="572.10" stroke="#2e2e2e" stroke-width="1.3"/>
<line x1="343.10" y1="565.10" x2="346.10" y2="565.10" stroke="#2e2e2e" stroke-width="1.0"/>
<text x="340.80" y="567.90" font-size="8.74" text-anchor="end" fill="#1c1c1c" stroke="#1c1c1c" stroke-width="0.3" textLength="15.8" lengthAdjust="spacingAndGlyphs">0.00</text>
<line x1="343.10" y1="552.25" x2="346.10" y2="552.25" stroke="#2e2e2e" stroke-width="1.0"/>
<text x="340.80" y="555.05" font-size="8.74" text-anchor="end" fill="#1c1c1c" stroke="#1c1c1c" stroke-width="0.3" textLength="15.8" lengthAdjust="spacingAndGlyphs">1.00</text>
<line x1="343.10" y1="539.40" x2="346.10" y2="539.40" stroke="#2e2e2e" stroke-width="1.0"/>
<text x="340.80" y="542.20" font-size="8.74" text-anchor="end" fill="#1c1c1c" stroke="#1c1c1c" stroke-width="0.3" textLength="15.8" lengthAdjust="spacingAndGlyphs">2.00</text>
<line x1="343.10" y1="526.55" x2="346.10" y2="526.55" stroke="#2e2e2e" stroke-width="1.0"/>
<text x="340.80" y="529.35" font-size="8.74" text-anchor="end" fill="#1c1c1c" stroke="#1c1c1c" stroke-width="0.3" textLength="15.8" lengthAdjust="spacingAndGlyphs">3.00</text>
<line x1="343.10" y1="513.70" x2="346.10" y2="513.70" stroke="#2e2e2e" stroke-width="1.0"/>
<text x="340.80" y="516.50" font-size="8.74" text-anchor="end" fill="#1c1c1c" stroke="#1c1c1c" stroke-width="0.3" textLength="15.8" lengthAdjust="spacingAndGlyphs">4.00</text>
<rect x="352.90" y="551.99" width="16.50" height="13.71" fill="#8d9cc5"/>
<rect x="376.60" y="543.90" width="16.50" height="21.80" fill="#e8897a"/>
<line x1="346.10" y1="565.70" x2="398.50" y2="565.70" stroke="#2a2a2a" stroke-width="1.3" stroke-dasharray="3.0,2.2"/>
<line x1="361.15" y1="572.10" x2="361.15" y2="574.60" stroke="#2e2e2e" stroke-width="1.0"/>
<line x1="384.85" y1="572.10" x2="384.85" y2="574.60" stroke="#2e2e2e" stroke-width="1.0"/>
<line x1="361.15" y1="555.46" x2="361.15" y2="548.39" stroke="#1a1a1a" stroke-width="1.0"/>
<line x1="360.35" y1="555.46" x2="361.95" y2="555.46" stroke="#1a1a1a" stroke-width="1.0"/>
<line x1="360.35" y1="548.39" x2="361.95" y2="548.39" stroke="#1a1a1a" stroke-width="1.0"/>
<line x1="384.85" y1="548.39" x2="384.85" y2="539.40" stroke="#1a1a1a" stroke-width="1.0"/>
<line x1="384.05" y1="548.39" x2="385.65" y2="548.39" stroke="#1a1a1a" stroke-width="1.0"/>
<line x1="384.05" y1="539.40" x2="385.65" y2="539.40" stroke="#1a1a1a" stroke-width="1.0"/>
<circle cx="363.50" cy="534.00" r="1.75" fill="#1a2b50" stroke="#050c1c" stroke-width="1.05"/>
<circle cx="359.70" cy="548.20" r="1.75" fill="#1a2b50" stroke="#050c1c" stroke-width="1.05"/>
<circle cx="361.80" cy="552.40" r="1.75" fill="#1a2b50" stroke="#050c1c" stroke-width="1.05"/>
<circle cx="363.00" cy="557.30" r="1.75" fill="#1a2b50" stroke="#050c1c" stroke-width="1.05"/>
<circle cx="363.90" cy="559.80" r="1.75" fill="#1a2b50" stroke="#050c1c" stroke-width="1.05"/>
<circle cx="381.40" cy="523.40" r="1.75" fill="#6e1424" stroke="#33060c" stroke-width="1.05"/>
<circle cx="385.00" cy="541.20" r="1.75" fill="#6e1424" stroke="#33060c" stroke-width="1.05"/>
<circle cx="380.00" cy="546.70" r="1.75" fill="#6e1424" stroke="#33060c" stroke-width="1.05"/>
<circle cx="380.80" cy="554.50" r="1.75" fill="#6e1424" stroke="#33060c" stroke-width="1.05"/>
<circle cx="385.70" cy="556.60" r="1.75" fill="#6e1424" stroke="#33060c" stroke-width="1.05"/>
<circle cx="386.50" cy="545.00" r="1.75" fill="#6e1424" stroke="#33060c" stroke-width="1.05"/>
<line x1="361.30" y1="520.80" x2="384.20" y2="520.80" stroke="#3a3a3a" stroke-width="1.1"/>
<text x="372.75" y="520.80" font-size="8.28" text-anchor="middle" fill="#1c1c1c" stroke="#1c1c1c" stroke-width="0.1" textLength="8.41" lengthAdjust="spacingAndGlyphs">***</text>
<text x="364.65" y="581.10" font-size="8.97" text-anchor="end" fill="#1c1c1c" stroke="#1c1c1c" stroke-width="0.3" textLength="26.5" lengthAdjust="spacingAndGlyphs" transform="rotate(-45 364.65 581.10)">FMC63</text>
<text x="388.35" y="581.10" font-size="8.97" text-anchor="end" fill="#1c1c1c" stroke="#1c1c1c" stroke-width="0.3" textLength="15.4" lengthAdjust="spacingAndGlyphs" transform="rotate(-45 388.35 581.10)">CAT</text>
<text x="318.35" y="542.00" font-size="9.2" text-anchor="middle" fill="#1c1c1c" stroke="#1c1c1c" stroke-width="0.42" textLength="28.4" lengthAdjust="spacingAndGlyphs" transform="rotate(-90 318.35 542.00)">EMD pRB</text>
<line x1="448.90" y1="512.80" x2="448.90" y2="571.90" stroke="#2e2e2e" stroke-width="1.3"/>
<line x1="448.40" y1="571.90" x2="496.00" y2="571.90" stroke="#2e2e2e" stroke-width="1.3"/>
<line x1="445.90" y1="571.90" x2="448.90" y2="571.90" stroke="#2e2e2e" stroke-width="1.0"/>
<text x="443.60" y="574.70" font-size="8.74" text-anchor="end" fill="#1c1c1c" stroke="#1c1c1c" stroke-width="0.3" textLength="19.8" lengthAdjust="spacingAndGlyphs">−0.50</text>
<line x1="445.90" y1="560.28" x2="448.90" y2="560.28" stroke="#2e2e2e" stroke-width="1.0"/>
<text x="443.60" y="563.08" font-size="8.74" text-anchor="end" fill="#1c1c1c" stroke="#1c1c1c" stroke-width="0.3" textLength="15.8" lengthAdjust="spacingAndGlyphs">0.00</text>
<line x1="445.90" y1="548.66" x2="448.90" y2="548.66" stroke="#2e2e2e" stroke-width="1.0"/>
<text x="443.60" y="551.46" font-size="8.74" text-anchor="end" fill="#1c1c1c" stroke="#1c1c1c" stroke-width="0.3" textLength="15.8" lengthAdjust="spacingAndGlyphs">0.50</text>
<line x1="445.90" y1="537.04" x2="448.90" y2="537.04" stroke="#2e2e2e" stroke-width="1.0"/>
<text x="443.60" y="539.84" font-size="8.74" text-anchor="end" fill="#1c1c1c" stroke="#1c1c1c" stroke-width="0.3" textLength="15.8" lengthAdjust="spacingAndGlyphs">1.00</text>
<line x1="445.90" y1="525.42" x2="448.90" y2="525.42" stroke="#2e2e2e" stroke-width="1.0"/>
<text x="443.60" y="528.22" font-size="8.74" text-anchor="end" fill="#1c1c1c" stroke="#1c1c1c" stroke-width="0.3" textLength="15.8" lengthAdjust="spacingAndGlyphs">1.50</text>
<line x1="445.90" y1="513.80" x2="448.90" y2="513.80" stroke="#2e2e2e" stroke-width="1.0"/>
<text x="443.60" y="516.60" font-size="8.74" text-anchor="end" fill="#1c1c1c" stroke="#1c1c1c" stroke-width="0.3" textLength="15.8" lengthAdjust="spacingAndGlyphs">2.00</text>
<rect x="454.70" y="549.82" width="15.00" height="11.06" fill="#8d9cc5"/>
<rect x="476.20" y="543.55" width="15.00" height="17.33" fill="#e8897a"/>
<line x1="448.90" y1="560.88" x2="495.50" y2="560.88" stroke="#2a2a2a" stroke-width="1.3" stroke-dasharray="3.0,2.2"/>
<line x1="462.20" y1="571.90" x2="462.20" y2="574.40" stroke="#2e2e2e" stroke-width="1.0"/>
<line x1="483.70" y1="571.90" x2="483.70" y2="574.40" stroke="#2e2e2e" stroke-width="1.0"/>
<line x1="462.20" y1="553.31" x2="462.20" y2="546.34" stroke="#1a1a1a" stroke-width="1.0"/>
<line x1="461.40" y1="553.31" x2="463.00" y2="553.31" stroke="#1a1a1a" stroke-width="1.0"/>
<line x1="461.40" y1="546.34" x2="463.00" y2="546.34" stroke="#1a1a1a" stroke-width="1.0"/>
<line x1="483.70" y1="547.50" x2="483.70" y2="539.36" stroke="#1a1a1a" stroke-width="1.0"/>
<line x1="482.90" y1="547.50" x2="484.50" y2="547.50" stroke="#1a1a1a" stroke-width="1.0"/>
<line x1="482.90" y1="539.36" x2="484.50" y2="539.36" stroke="#1a1a1a" stroke-width="1.0"/>
<circle cx="464.60" cy="533.80" r="1.75" fill="#1a2b50" stroke="#050c1c" stroke-width="1.05"/>
<circle cx="461.80" cy="548.80" r="1.75" fill="#1a2b50" stroke="#050c1c" stroke-width="1.05"/>
<circle cx="460.50" cy="551.20" r="1.75" fill="#1a2b50" stroke="#050c1c" stroke-width="1.05"/>
<circle cx="463.50" cy="556.90" r="1.75" fill="#1a2b50" stroke="#050c1c" stroke-width="1.05"/>
<circle cx="465.00" cy="550.50" r="1.75" fill="#1a2b50" stroke="#050c1c" stroke-width="1.05"/>
<circle cx="479.60" cy="531.10" r="1.75" fill="#6e1424" stroke="#33060c" stroke-width="1.05"/>
<circle cx="481.20" cy="535.70" r="1.75" fill="#6e1424" stroke="#33060c" stroke-width="1.05"/>
<circle cx="483.50" cy="542.60" r="1.75" fill="#6e1424" stroke="#33060c" stroke-width="1.05"/>
<circle cx="484.90" cy="548.80" r="1.75" fill="#6e1424" stroke="#33060c" stroke-width="1.05"/>
<circle cx="480.30" cy="556.90" r="1.75" fill="#6e1424" stroke="#33060c" stroke-width="1.05"/>
<line x1="461.80" y1="528.10" x2="483.50" y2="528.10" stroke="#3a3a3a" stroke-width="1.1"/>
<text x="472.65" y="528.00" font-size="8.28" text-anchor="middle" fill="#1c1c1c" stroke="#1c1c1c" stroke-width="0.1" textLength="2.8" lengthAdjust="spacingAndGlyphs">*</text>
<text x="465.70" y="580.90" font-size="8.97" text-anchor="end" fill="#1c1c1c" stroke="#1c1c1c" stroke-width="0.3" textLength="26.5" lengthAdjust="spacingAndGlyphs" transform="rotate(-45 465.70 580.90)">FMC63</text>
<text x="487.20" y="580.90" font-size="8.97" text-anchor="end" fill="#1c1c1c" stroke="#1c1c1c" stroke-width="0.3" textLength="15.4" lengthAdjust="spacingAndGlyphs" transform="rotate(-45 487.20 580.90)">CAT</text>
<text x="415.81" y="542.40" font-size="9.2" text-anchor="middle" fill="#1c1c1c" stroke="#1c1c1c" stroke-width="0.42" textLength="27.5" lengthAdjust="spacingAndGlyphs" transform="rotate(-90 415.81 542.40)">EMD CD4</text>
</svg>
</body></html>
